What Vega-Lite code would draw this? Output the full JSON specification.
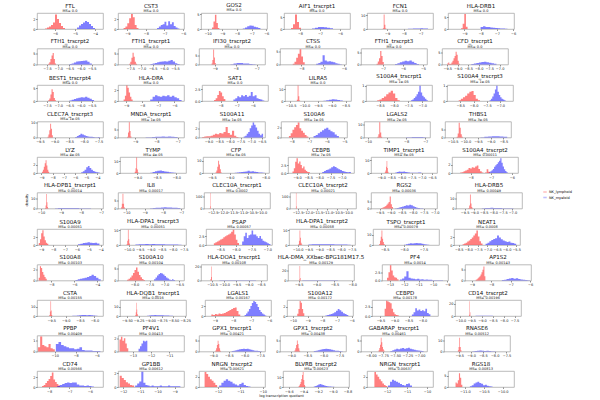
{
"$schema": "https://vega.github.io/schema/vega-lite/v6.json",
"background": "white",
"padding": {"left": 24, "top": 2, "right": 2, "bottom": 1},
"datasets": {
"d1": [{"t":"L","x":-6.5,"y":0.1},{"t":"L","x":-6.4,"y":0.3},{"t":"L","x":-6.3,"y":0.5},{"t":"L","x":-6.2,"y":0.8},{"t":"L","x":-6.1,"y":1.3},{"t":"L","x":-6.0,"y":2.9},{"t":"L","x":-5.9,"y":2.0},{"t":"L","x":-5.8,"y":1.2},{"t":"L","x":-5.7,"y":0.6},{"t":"L","x":-5.6,"y":0.2},{"t":"L","x":-5.5,"y":0},
{"t":"M","x":-4.9,"y":0.3},{"t":"M","x":-4.8,"y":0.7},{"t":"M","x":-4.7,"y":1.0},{"t":"M","x":-4.6,"y":1.3},{"t":"M","x":-4.5,"y":1.6},{"t":"M","x":-4.4,"y":1.4},{"t":"M","x":-4.3,"y":1.0},{"t":"M","x":-4.2,"y":0.6},{"t":"M","x":-4.1,"y":0.2},{"t":"M","x":-4.0,"y":0}],
"d2": [{"t":"L","x":-9.2,"y":0.2},{"t":"L","x":-9.1,"y":0.5},{"t":"L","x":-9.0,"y":1.2},{"t":"L","x":-8.9,"y":2.2},{"t":"L","x":-8.8,"y":3.1},{"t":"L","x":-8.7,"y":2.4},{"t":"L","x":-8.6,"y":0.8},{"t":"L","x":-8.5,"y":0.2},{"t":"L","x":-8.4,"y":0},
{"t":"M","x":-7.4,"y":0.2},{"t":"M","x":-7.3,"y":0.5},{"t":"M","x":-7.2,"y":0.8},{"t":"M","x":-7.1,"y":1.0},{"t":"M","x":-7.0,"y":1.5},{"t":"M","x":-6.9,"y":0.7},{"t":"M","x":-6.8,"y":1.6},{"t":"M","x":-6.7,"y":1.0},{"t":"M","x":-6.6,"y":1.4},{"t":"M","x":-6.5,"y":0.6},{"t":"M","x":-6.4,"y":0.3},{"t":"M","x":-6.3,"y":0.1},{"t":"M","x":-6.2,"y":0}],
"d3": [{"t":"L","x":-9.7,"y":0.5},{"t":"L","x":-9.6,"y":2.5},{"t":"L","x":-9.5,"y":4.8},{"t":"L","x":-9.4,"y":2.0},{"t":"L","x":-9.3,"y":0.3},{"t":"L","x":-9.2,"y":0},
{"t":"M","x":-7.6,"y":0.2},{"t":"M","x":-7.45,"y":0.5},{"t":"M","x":-7.3,"y":0.9},{"t":"M","x":-7.15,"y":1.2},{"t":"M","x":-7.0,"y":1.1},{"t":"M","x":-6.85,"y":0.8},{"t":"M","x":-6.7,"y":0.6},{"t":"M","x":-6.55,"y":0.3},{"t":"M","x":-6.4,"y":0}],
"d4": [{"t":"L","x":-8.45,"y":0.4},{"t":"L","x":-8.35,"y":2.0},{"t":"L","x":-8.25,"y":6.2},{"t":"L","x":-8.15,"y":3.0},{"t":"L","x":-8.05,"y":0.5},{"t":"L","x":-7.95,"y":0},
{"t":"M","x":-7.4,"y":0.2},{"t":"M","x":-7.25,"y":0.5},{"t":"M","x":-7.1,"y":0.9},{"t":"M","x":-6.95,"y":0.8},{"t":"M","x":-6.8,"y":0.7},{"t":"M","x":-6.65,"y":0.5},{"t":"M","x":-6.5,"y":0.3},{"t":"M","x":-6.35,"y":0}],
"d5": [{"t":"L","x":-9.25,"y":0.5},{"t":"L","x":-9.2,"y":10.5},{"t":"L","x":-9.15,"y":3},{"t":"L","x":-9.1,"y":0.3},{"t":"L","x":-9.05,"y":0},
{"t":"M","x":-7.75,"y":0.1},{"t":"M","x":-7.6,"y":0.2},{"t":"M","x":-7.45,"y":0.3},{"t":"M","x":-7.3,"y":0.35},{"t":"M","x":-7.15,"y":0.4},{"t":"M","x":-7.0,"y":0.5},{"t":"M","x":-6.85,"y":0.4},{"t":"M","x":-6.7,"y":0.3},{"t":"M","x":-6.55,"y":0}],
"d6": [{"t":"L","x":-9.2,"y":0.3},{"t":"L","x":-9.1,"y":2.2},{"t":"L","x":-9.0,"y":6.4},{"t":"L","x":-8.9,"y":1.0},{"t":"L","x":-8.8,"y":0},
{"t":"M","x":-8.0,"y":0.8},{"t":"M","x":-7.85,"y":1.2},{"t":"M","x":-7.7,"y":0.9},{"t":"M","x":-7.55,"y":0.8},{"t":"M","x":-7.4,"y":0.6},{"t":"M","x":-7.25,"y":0.5},{"t":"M","x":-7.1,"y":0.4},{"t":"M","x":-6.95,"y":0.3},{"t":"M","x":-6.8,"y":0.2},{"t":"M","x":-6.65,"y":0.2},{"t":"M","x":-6.5,"y":0.1},{"t":"M","x":-6.35,"y":0}],
"d7": [{"t":"L","x":-7.45,"y":0.3},{"t":"L","x":-7.4,"y":1.0},{"t":"L","x":-7.35,"y":2.5},{"t":"L","x":-7.3,"y":4.0},{"t":"L","x":-7.25,"y":5.2},{"t":"L","x":-7.2,"y":2.5},{"t":"L","x":-7.15,"y":0.5},{"t":"L","x":-7.1,"y":0},
{"t":"M","x":-6.5,"y":0.2},{"t":"M","x":-6.4,"y":0.5},{"t":"M","x":-6.3,"y":0.9},{"t":"M","x":-6.2,"y":1.3},{"t":"M","x":-6.1,"y":1.5},{"t":"M","x":-6.0,"y":1.6},{"t":"M","x":-5.9,"y":1.7},{"t":"M","x":-5.8,"y":1.8},{"t":"M","x":-5.7,"y":1.2},{"t":"M","x":-5.6,"y":0.5},{"t":"M","x":-5.5,"y":0}],
"d8": [{"t":"L","x":-7.55,"y":0.3},{"t":"L","x":-7.5,"y":1.2},{"t":"L","x":-7.45,"y":3.0},{"t":"L","x":-7.4,"y":5.3},{"t":"L","x":-7.35,"y":3.5},{"t":"L","x":-7.3,"y":1.2},{"t":"L","x":-7.25,"y":0.3},{"t":"L","x":-7.2,"y":0},
{"t":"M","x":-6.6,"y":0.2},{"t":"M","x":-6.5,"y":0.4},{"t":"M","x":-6.4,"y":0.7},{"t":"M","x":-6.3,"y":1.0},{"t":"M","x":-6.2,"y":1.2},{"t":"M","x":-6.1,"y":1.3},{"t":"M","x":-6.0,"y":1.5},{"t":"M","x":-5.9,"y":1.4},{"t":"M","x":-5.8,"y":1.7},{"t":"M","x":-5.7,"y":2.0},{"t":"M","x":-5.6,"y":1.3},{"t":"M","x":-5.5,"y":0.6},{"t":"M","x":-5.4,"y":0.2},{"t":"M","x":-5.3,"y":0}],
"d9": [{"t":"L","x":-9.15,"y":0.5},{"t":"L","x":-9.11,"y":2.5},{"t":"L","x":-9.07,"y":8.5},{"t":"L","x":-9.03,"y":4.0},{"t":"L","x":-8.99,"y":0.8},{"t":"L","x":-8.95,"y":0},
{"t":"M","x":-8.25,"y":0.2},{"t":"M","x":-8.1,"y":0.6},{"t":"M","x":-7.95,"y":0.9},{"t":"M","x":-7.8,"y":0.8},{"t":"M","x":-7.65,"y":0.6},{"t":"M","x":-7.5,"y":0.5},{"t":"M","x":-7.35,"y":0.3},{"t":"M","x":-7.2,"y":0.2},{"t":"M","x":-7.05,"y":0}],
"d10": [{"t":"L","x":-8.4,"y":0.3},{"t":"L","x":-8.32,"y":1.0},{"t":"L","x":-8.24,"y":2.5},{"t":"L","x":-8.16,"y":4.0},{"t":"L","x":-8.08,"y":5.7},{"t":"L","x":-8.0,"y":3.0},{"t":"L","x":-7.92,"y":0.8},{"t":"L","x":-7.84,"y":0},
{"t":"M","x":-7.3,"y":0.3},{"t":"M","x":-7.2,"y":0.6},{"t":"M","x":-7.1,"y":1.0},{"t":"M","x":-7.0,"y":3.5},{"t":"M","x":-6.9,"y":1.5},{"t":"M","x":-6.8,"y":1.1},{"t":"M","x":-6.7,"y":1.2},{"t":"M","x":-6.6,"y":1.0},{"t":"M","x":-6.5,"y":0.8},{"t":"M","x":-6.4,"y":0.5},{"t":"M","x":-6.3,"y":0.3},{"t":"M","x":-6.2,"y":0.1},{"t":"M","x":-6.1,"y":0}],
"d11": [{"t":"L","x":-7.32,"y":0.3},{"t":"L","x":-7.26,"y":1.2},{"t":"L","x":-7.2,"y":2.5},{"t":"L","x":-7.14,"y":5.5},{"t":"L","x":-7.08,"y":3.5},{"t":"L","x":-7.02,"y":1.0},{"t":"L","x":-6.96,"y":0},
{"t":"M","x":-6.4,"y":0.2},{"t":"M","x":-6.28,"y":0.5},{"t":"M","x":-6.16,"y":0.9},{"t":"M","x":-6.04,"y":1.2},{"t":"M","x":-5.92,"y":1.5},{"t":"M","x":-5.8,"y":1.3},{"t":"M","x":-5.68,"y":1.6},{"t":"M","x":-5.56,"y":1.1},{"t":"M","x":-5.44,"y":0.6},{"t":"M","x":-5.32,"y":0.2},{"t":"M","x":-5.2,"y":0}],
"d12": [{"t":"L","x":-9.5,"y":0.4},{"t":"L","x":-9.45,"y":0.8},{"t":"L","x":-9.4,"y":0.2},{"t":"L","x":-9.35,"y":0.3},{"t":"L","x":-9.3,"y":0.8},{"t":"L","x":-9.25,"y":1.5},{"t":"L","x":-9.2,"y":2.5},{"t":"L","x":-9.15,"y":3.5},{"t":"L","x":-9.1,"y":5.2},{"t":"L","x":-9.05,"y":4.0},{"t":"L","x":-9.0,"y":1.5},{"t":"L","x":-8.95,"y":0.3},{"t":"L","x":-8.9,"y":0},
{"t":"M","x":-8.35,"y":0.2},{"t":"M","x":-8.23,"y":0.4},{"t":"M","x":-8.11,"y":0.6},{"t":"M","x":-7.99,"y":0.8},{"t":"M","x":-7.87,"y":1.0},{"t":"M","x":-7.75,"y":1.1},{"t":"M","x":-7.63,"y":0.9},{"t":"M","x":-7.51,"y":0.7},{"t":"M","x":-7.39,"y":0.5},{"t":"M","x":-7.27,"y":0.3},{"t":"M","x":-7.15,"y":0}],
"d13": [{"t":"L","x":-7.45,"y":0.3},{"t":"L","x":-7.4,"y":1.0},{"t":"L","x":-7.35,"y":2.5},{"t":"L","x":-7.3,"y":4.6},{"t":"L","x":-7.25,"y":3.5},{"t":"L","x":-7.2,"y":1.2},{"t":"L","x":-7.15,"y":0.3},{"t":"L","x":-7.1,"y":0},
{"t":"M","x":-6.5,"y":0.2},{"t":"M","x":-6.4,"y":0.5},{"t":"M","x":-6.3,"y":0.8},{"t":"M","x":-6.2,"y":1.1},{"t":"M","x":-6.1,"y":1.3},{"t":"M","x":-6.0,"y":1.5},{"t":"M","x":-5.9,"y":1.4},{"t":"M","x":-5.8,"y":1.6},{"t":"M","x":-5.7,"y":1.3},{"t":"M","x":-5.6,"y":0.9},{"t":"M","x":-5.5,"y":0.4},{"t":"M","x":-5.4,"y":0}],
"d14": [{"t":"L","x":-9.15,"y":0.3},{"t":"L","x":-9.07,"y":1.0},{"t":"L","x":-8.99,"y":2.9},{"t":"L","x":-8.91,"y":2.5},{"t":"L","x":-8.83,"y":1.6},{"t":"L","x":-8.75,"y":0.8},{"t":"L","x":-8.67,"y":0.3},{"t":"L","x":-8.59,"y":0},
{"t":"M","x":-7.5,"y":0.3},{"t":"M","x":-7.35,"y":0.8},{"t":"M","x":-7.2,"y":1.1},{"t":"M","x":-7.05,"y":0.9},{"t":"M","x":-6.9,"y":0.8},{"t":"M","x":-6.75,"y":1.0},{"t":"M","x":-6.6,"y":0.9},{"t":"M","x":-6.45,"y":1.1},{"t":"M","x":-6.3,"y":0.8},{"t":"M","x":-6.15,"y":1.0},{"t":"M","x":-6.0,"y":0.7},{"t":"M","x":-5.85,"y":0.5},{"t":"M","x":-5.7,"y":0.2},{"t":"M","x":-5.55,"y":0}],
"d15": [{"t":"L","x":-8.4,"y":0.2},{"t":"L","x":-8.3,"y":0.6},{"t":"L","x":-8.2,"y":1.3},{"t":"L","x":-8.1,"y":2.1},{"t":"L","x":-8.0,"y":1.8},{"t":"L","x":-7.9,"y":1.0},{"t":"L","x":-7.8,"y":0.4},{"t":"L","x":-7.7,"y":0},
{"t":"M","x":-7.2,"y":0.3},{"t":"M","x":-7.08,"y":0.6},{"t":"M","x":-6.96,"y":1.0},{"t":"M","x":-6.84,"y":0.8},{"t":"M","x":-6.72,"y":1.2},{"t":"M","x":-6.6,"y":1.0},{"t":"M","x":-6.48,"y":1.3},{"t":"M","x":-6.36,"y":0.9},{"t":"M","x":-6.24,"y":1.1},{"t":"M","x":-6.12,"y":1.9},{"t":"M","x":-6.0,"y":1.0},{"t":"M","x":-5.88,"y":1.2},{"t":"M","x":-5.76,"y":0.6},{"t":"M","x":-5.64,"y":0.4},{"t":"M","x":-5.52,"y":0.3},{"t":"M","x":-5.4,"y":0.1},{"t":"M","x":-5.28,"y":0}],
"d16": [{"t":"L","x":-10.27,"y":1.0},{"t":"L","x":-10.24,"y":13},{"t":"L","x":-10.21,"y":4},{"t":"L","x":-10.18,"y":0.5},{"t":"L","x":-10.15,"y":0},
{"t":"M","x":-9.4,"y":0.1},{"t":"M","x":-9.3,"y":0.3},{"t":"M","x":-9.2,"y":0.6},{"t":"M","x":-9.1,"y":1.1},{"t":"M","x":-9.0,"y":1.4},{"t":"M","x":-8.9,"y":1.2},{"t":"M","x":-8.8,"y":0.8},{"t":"M","x":-8.7,"y":0.4},{"t":"M","x":-8.6,"y":0.1},{"t":"M","x":-8.5,"y":0}],
"d17": [{"t":"L","x":-8.6,"y":0.05},{"t":"L","x":-8.52,"y":0.1},{"t":"L","x":-8.44,"y":0.2},{"t":"L","x":-8.36,"y":0.3},{"t":"L","x":-8.28,"y":0.45},{"t":"L","x":-8.2,"y":0.55},{"t":"L","x":-8.12,"y":0.68},{"t":"L","x":-8.04,"y":0.5},{"t":"L","x":-7.96,"y":0.2},{"t":"L","x":-7.88,"y":0.05},{"t":"L","x":-7.8,"y":0},
{"t":"M","x":-7.4,"y":0.05},{"t":"M","x":-7.35,"y":0.1},{"t":"M","x":-7.3,"y":0.2},{"t":"M","x":-7.25,"y":0.3},{"t":"M","x":-7.2,"y":0.45},{"t":"M","x":-7.15,"y":0.6},{"t":"M","x":-7.1,"y":1.0},{"t":"M","x":-7.05,"y":0.55},{"t":"M","x":-7.0,"y":0.35},{"t":"M","x":-6.95,"y":0.25},{"t":"M","x":-6.9,"y":0.15},{"t":"M","x":-6.85,"y":0.05},{"t":"M","x":-6.8,"y":0}],
"d18": [{"t":"L","x":-8.56,"y":0.05},{"t":"L","x":-8.48,"y":0.15},{"t":"L","x":-8.4,"y":0.25},{"t":"L","x":-8.32,"y":0.35},{"t":"L","x":-8.24,"y":0.5},{"t":"L","x":-8.16,"y":0.6},{"t":"L","x":-8.08,"y":0.65},{"t":"L","x":-8.0,"y":0.4},{"t":"L","x":-7.92,"y":0.15},{"t":"L","x":-7.84,"y":0.05},{"t":"L","x":-7.76,"y":0},
{"t":"M","x":-7.4,"y":0.05},{"t":"M","x":-7.35,"y":0.15},{"t":"M","x":-7.3,"y":0.3},{"t":"M","x":-7.25,"y":0.5},{"t":"M","x":-7.2,"y":0.75},{"t":"M","x":-7.15,"y":1.0},{"t":"M","x":-7.1,"y":0.6},{"t":"M","x":-7.05,"y":0.4},{"t":"M","x":-7.0,"y":0.25},{"t":"M","x":-6.95,"y":0.15},{"t":"M","x":-6.9,"y":0.1},{"t":"M","x":-6.85,"y":0.05},{"t":"M","x":-6.8,"y":0}],
"d19": [{"t":"L","x":-9.24,"y":0.5},{"t":"L","x":-9.21,"y":2},{"t":"L","x":-9.18,"y":5},{"t":"L","x":-9.15,"y":9.5},{"t":"L","x":-9.12,"y":6},{"t":"L","x":-9.09,"y":1.5},{"t":"L","x":-9.06,"y":0},
{"t":"M","x":-8.3,"y":0.3},{"t":"M","x":-8.24,"y":1.0},{"t":"M","x":-8.18,"y":1.8},{"t":"M","x":-8.12,"y":2.6},{"t":"M","x":-8.06,"y":2.0},{"t":"M","x":-8.0,"y":1.5},{"t":"M","x":-7.94,"y":1.0},{"t":"M","x":-7.88,"y":0.7},{"t":"M","x":-7.82,"y":0.5},{"t":"M","x":-7.76,"y":0.6},{"t":"M","x":-7.7,"y":0.3},{"t":"M","x":-7.64,"y":0.2},{"t":"M","x":-7.58,"y":0.1},{"t":"M","x":-7.52,"y":0.3},{"t":"M","x":-7.46,"y":0}],
"d20": [{"t":"L","x":-9.37,"y":0.5},{"t":"L","x":-9.33,"y":3},{"t":"L","x":-9.29,"y":9.3},{"t":"L","x":-9.25,"y":4},{"t":"L","x":-9.21,"y":0.6},{"t":"L","x":-9.17,"y":0},
{"t":"M","x":-8.5,"y":0.1},{"t":"M","x":-8.35,"y":0.2},{"t":"M","x":-8.2,"y":0.3},{"t":"M","x":-8.05,"y":0.4},{"t":"M","x":-7.9,"y":0.5},{"t":"M","x":-7.75,"y":0.6},{"t":"M","x":-7.6,"y":0.5},{"t":"M","x":-7.45,"y":0.6},{"t":"M","x":-7.3,"y":0.4},{"t":"M","x":-7.15,"y":0.3},{"t":"M","x":-7.0,"y":0}],
"d21": [{"t":"L","x":-9.3,"y":0.1},{"t":"L","x":-9.2,"y":0.2},{"t":"L","x":-9.1,"y":0.3},{"t":"L","x":-9.0,"y":0.3},{"t":"L","x":-8.9,"y":0.4},{"t":"L","x":-8.8,"y":0.6},{"t":"L","x":-8.7,"y":0.8},{"t":"L","x":-8.6,"y":0.7},{"t":"L","x":-8.5,"y":1.0},{"t":"L","x":-8.4,"y":0.9},{"t":"L","x":-8.3,"y":1.2},{"t":"L","x":-8.2,"y":2.3},{"t":"L","x":-8.1,"y":1.0},{"t":"L","x":-8.0,"y":0.6},{"t":"L","x":-7.9,"y":1.5},{"t":"L","x":-7.8,"y":0.4},{"t":"L","x":-7.7,"y":0.1},{"t":"L","x":-7.6,"y":0},
{"t":"M","x":-7.35,"y":0.2},{"t":"M","x":-7.28,"y":0.4},{"t":"M","x":-7.21,"y":0.8},{"t":"M","x":-7.14,"y":1.2},{"t":"M","x":-7.07,"y":2.0},{"t":"M","x":-7.0,"y":2.6},{"t":"M","x":-6.93,"y":3.3},{"t":"M","x":-6.86,"y":2.8},{"t":"M","x":-6.79,"y":2.2},{"t":"M","x":-6.72,"y":1.5},{"t":"M","x":-6.65,"y":0.8},{"t":"M","x":-6.58,"y":0.5},{"t":"M","x":-6.51,"y":0.8},{"t":"M","x":-6.44,"y":0}],
"d22": [{"t":"L","x":-8.15,"y":0.3},{"t":"L","x":-8.05,"y":0.8},{"t":"L","x":-7.95,"y":1.5},{"t":"L","x":-7.85,"y":2.0},{"t":"L","x":-7.75,"y":2.4},{"t":"L","x":-7.65,"y":2.9},{"t":"L","x":-7.55,"y":1.8},{"t":"L","x":-7.45,"y":1.3},{"t":"L","x":-7.35,"y":0.9},{"t":"L","x":-7.25,"y":0.5},{"t":"L","x":-7.15,"y":0.2},{"t":"L","x":-7.05,"y":0},
{"t":"M","x":-6.75,"y":0.3},{"t":"M","x":-6.63,"y":0.5},{"t":"M","x":-6.51,"y":0.8},{"t":"M","x":-6.39,"y":1.1},{"t":"M","x":-6.27,"y":1.4},{"t":"M","x":-6.15,"y":1.7},{"t":"M","x":-6.03,"y":1.9},{"t":"M","x":-5.91,"y":1.5},{"t":"M","x":-5.79,"y":1.2},{"t":"M","x":-5.67,"y":1.0},{"t":"M","x":-5.55,"y":0.6},{"t":"M","x":-5.43,"y":0.3},{"t":"M","x":-5.31,"y":0}],
"d23": [{"t":"L","x":-9.5,"y":0.5},{"t":"L","x":-9.45,"y":2.5},{"t":"L","x":-9.4,"y":12},{"t":"L","x":-9.35,"y":4},{"t":"L","x":-9.3,"y":0.5},{"t":"L","x":-9.25,"y":0},
{"t":"M","x":-8.0,"y":0.1},{"t":"M","x":-7.85,"y":0.2},{"t":"M","x":-7.7,"y":0.3},{"t":"M","x":-7.55,"y":0.4},{"t":"M","x":-7.4,"y":0.4},{"t":"M","x":-7.25,"y":0.35},{"t":"M","x":-7.1,"y":0.25},{"t":"M","x":-6.95,"y":0}],
"d24": [{"t":"L","x":-10.34,"y":0.5},{"t":"L","x":-10.3,"y":2.5},{"t":"L","x":-10.26,"y":9.0},{"t":"L","x":-10.22,"y":6},{"t":"L","x":-10.18,"y":2},{"t":"L","x":-10.14,"y":0.5},{"t":"L","x":-10.1,"y":0},
{"t":"M","x":-9.4,"y":0.2},{"t":"M","x":-9.25,"y":0.4},{"t":"M","x":-9.1,"y":0.6},{"t":"M","x":-8.95,"y":0.8},{"t":"M","x":-8.8,"y":0.7},{"t":"M","x":-8.65,"y":0.6},{"t":"M","x":-8.5,"y":0.4},{"t":"M","x":-8.35,"y":0}],
"d25": [{"t":"L","x":-8.95,"y":0.3},{"t":"L","x":-8.87,"y":0.8},{"t":"L","x":-8.79,"y":1.5},{"t":"L","x":-8.71,"y":2.4},{"t":"L","x":-8.63,"y":3.1},{"t":"L","x":-8.55,"y":1.8},{"t":"L","x":-8.47,"y":0.8},{"t":"L","x":-8.39,"y":0.3},{"t":"L","x":-8.31,"y":0},
{"t":"M","x":-5.45,"y":0.2},{"t":"M","x":-5.3,"y":0.4},{"t":"M","x":-5.15,"y":0.8},{"t":"M","x":-5.0,"y":1.4},{"t":"M","x":-4.85,"y":1.7},{"t":"M","x":-4.7,"y":1.2},{"t":"M","x":-4.55,"y":0.8},{"t":"M","x":-4.4,"y":0.5},{"t":"M","x":-4.25,"y":0.3},{"t":"M","x":-4.1,"y":0.2},{"t":"M","x":-3.95,"y":0.1},{"t":"M","x":-3.8,"y":0}],
"d26": [{"t":"L","x":-9.07,"y":1.0},{"t":"L","x":-9.05,"y":4},{"t":"L","x":-9.03,"y":13},{"t":"L","x":-9.01,"y":3},{"t":"L","x":-8.99,"y":0.5},{"t":"L","x":-8.97,"y":0},
{"t":"M","x":-8.67,"y":0.3},{"t":"M","x":-8.61,"y":0.8},{"t":"M","x":-8.55,"y":1.5},{"t":"M","x":-8.49,"y":2.0},{"t":"M","x":-8.43,"y":2.2},{"t":"M","x":-8.37,"y":1.6},{"t":"M","x":-8.31,"y":1.2},{"t":"M","x":-8.25,"y":1.0},{"t":"M","x":-8.19,"y":0.6},{"t":"M","x":-8.13,"y":0.4},{"t":"M","x":-8.07,"y":0.2},{"t":"M","x":-8.01,"y":0.1},{"t":"M","x":-7.95,"y":0}],
"d27": [{"t":"L","x":-9.4,"y":0.5},{"t":"L","x":-9.375,"y":2},{"t":"L","x":-9.35,"y":5},{"t":"L","x":-9.325,"y":10},{"t":"L","x":-9.3,"y":7},{"t":"L","x":-9.275,"y":3},{"t":"L","x":-9.25,"y":0.5},{"t":"L","x":-9.225,"y":0},
{"t":"M","x":-8.86,"y":0.2},{"t":"M","x":-8.8,"y":0.4},{"t":"M","x":-8.74,"y":0.6},{"t":"M","x":-8.68,"y":0.8},{"t":"M","x":-8.62,"y":1.0},{"t":"M","x":-8.56,"y":1.3},{"t":"M","x":-8.5,"y":1.8},{"t":"M","x":-8.44,"y":1.2},{"t":"M","x":-8.38,"y":1.5},{"t":"M","x":-8.32,"y":1.0},{"t":"M","x":-8.26,"y":0.8},{"t":"M","x":-8.2,"y":0.5},{"t":"M","x":-8.14,"y":0.4},{"t":"M","x":-8.08,"y":0.3},{"t":"M","x":-8.02,"y":0}],
"d28": [{"t":"L","x":-9.2,"y":0.5},{"t":"L","x":-9.14,"y":1.5},{"t":"L","x":-9.08,"y":3.5},{"t":"L","x":-9.02,"y":4.6},{"t":"L","x":-8.96,"y":3.0},{"t":"L","x":-8.9,"y":3.6},{"t":"L","x":-8.84,"y":2.5},{"t":"L","x":-8.78,"y":1.5},{"t":"L","x":-8.72,"y":2.0},{"t":"L","x":-8.66,"y":1.0},{"t":"L","x":-8.6,"y":0.6},{"t":"L","x":-8.54,"y":0.3},{"t":"L","x":-8.48,"y":0.2},{"t":"L","x":-8.42,"y":0},
{"t":"M","x":-7.87,"y":0.3},{"t":"M","x":-7.79,"y":0.6},{"t":"M","x":-7.71,"y":0.9},{"t":"M","x":-7.63,"y":1.1},{"t":"M","x":-7.55,"y":1.4},{"t":"M","x":-7.47,"y":1.8},{"t":"M","x":-7.39,"y":2.1},{"t":"M","x":-7.31,"y":1.9},{"t":"M","x":-7.23,"y":1.5},{"t":"M","x":-7.15,"y":1.2},{"t":"M","x":-7.07,"y":0.9},{"t":"M","x":-6.99,"y":0.6},{"t":"M","x":-6.91,"y":0.5},{"t":"M","x":-6.83,"y":0.3},{"t":"M","x":-6.75,"y":0.2},{"t":"M","x":-6.67,"y":0.3},{"t":"M","x":-6.59,"y":0}],
"d29": [{"t":"L","x":-8.82,"y":0.5},{"t":"L","x":-8.79,"y":2},{"t":"L","x":-8.76,"y":5},{"t":"L","x":-8.73,"y":9.5},{"t":"L","x":-8.7,"y":4},{"t":"L","x":-8.67,"y":1},{"t":"L","x":-8.64,"y":0},
{"t":"M","x":-8.3,"y":0.3},{"t":"M","x":-8.22,"y":0.7},{"t":"M","x":-8.14,"y":1.2},{"t":"M","x":-8.06,"y":1.0},{"t":"M","x":-7.98,"y":0.9},{"t":"M","x":-7.9,"y":1.1},{"t":"M","x":-7.82,"y":0.8},{"t":"M","x":-7.74,"y":0.5},{"t":"M","x":-7.66,"y":0.4},{"t":"M","x":-7.58,"y":0.2},{"t":"M","x":-7.5,"y":0.1},{"t":"M","x":-7.42,"y":0.1},{"t":"M","x":-7.34,"y":0.1},{"t":"M","x":-7.26,"y":0.2},{"t":"M","x":-7.18,"y":0.4},{"t":"M","x":-7.1,"y":0.3},{"t":"M","x":-7.02,"y":0}],
"d30": [{"t":"L","x":-8.5,"y":0.1},{"t":"L","x":-8.42,"y":0.2},{"t":"L","x":-8.34,"y":0.4},{"t":"L","x":-8.26,"y":0.6},{"t":"L","x":-8.18,"y":0.8},{"t":"L","x":-8.1,"y":1.2},{"t":"L","x":-8.02,"y":1.1},{"t":"L","x":-7.94,"y":1.4},{"t":"L","x":-7.86,"y":1.3},{"t":"L","x":-7.78,"y":1.6},{"t":"L","x":-7.7,"y":1.8},{"t":"L","x":-7.62,"y":1.0},{"t":"L","x":-7.54,"y":0.4},{"t":"L","x":-7.46,"y":0.1},{"t":"L","x":-7.38,"y":0},{"t":"L","x":-7.3,"y":0.1},{"t":"L","x":-7.22,"y":0.9},{"t":"L","x":-7.14,"y":0.3},{"t":"L","x":-7.06,"y":0},
{"t":"M","x":-7.1,"y":0.2},{"t":"M","x":-7.04,"y":0.4},{"t":"M","x":-6.98,"y":0.7},{"t":"M","x":-6.92,"y":1.0},{"t":"M","x":-6.86,"y":1.5},{"t":"M","x":-6.8,"y":1.9},{"t":"M","x":-6.74,"y":2.2},{"t":"M","x":-6.68,"y":2.6},{"t":"M","x":-6.62,"y":3.0},{"t":"M","x":-6.56,"y":3.6},{"t":"M","x":-6.5,"y":2.5},{"t":"M","x":-6.44,"y":1.6},{"t":"M","x":-6.38,"y":0.9},{"t":"M","x":-6.32,"y":0.5},{"t":"M","x":-6.26,"y":0.2},{"t":"M","x":-6.2,"y":0}],
"d31": [{"t":"L","x":-9.8,"y":0.5},{"t":"L","x":-9.77,"y":3},{"t":"L","x":-9.74,"y":14},{"t":"L","x":-9.71,"y":6},{"t":"L","x":-9.68,"y":1.5},{"t":"L","x":-9.65,"y":0.3},{"t":"L","x":-9.62,"y":0},
{"t":"M","x":-9.3,"y":0.2},{"t":"M","x":-9.15,"y":0.5},{"t":"M","x":-9.0,"y":0.6},{"t":"M","x":-8.85,"y":0.5},{"t":"M","x":-8.7,"y":0.5},{"t":"M","x":-8.55,"y":0.4},{"t":"M","x":-8.4,"y":0.5},{"t":"M","x":-8.25,"y":0.4},{"t":"M","x":-8.1,"y":0.3},{"t":"M","x":-7.95,"y":0.3},{"t":"M","x":-7.8,"y":0.2},{"t":"M","x":-7.65,"y":0.2},{"t":"M","x":-7.5,"y":0.1},{"t":"M","x":-7.35,"y":0.1},{"t":"M","x":-7.2,"y":0}],
"d32": [{"t":"L","x":-10.28,"y":0.8},{"t":"L","x":-10.24,"y":3},{"t":"L","x":-10.2,"y":9.2},{"t":"L","x":-10.16,"y":3},{"t":"L","x":-10.12,"y":0.8},{"t":"L","x":-10.08,"y":0},
{"t":"M","x":-8.7,"y":0.2},{"t":"M","x":-8.55,"y":0.3},{"t":"M","x":-8.4,"y":0.4},{"t":"M","x":-8.25,"y":0.5},{"t":"M","x":-8.1,"y":0.6},{"t":"M","x":-7.95,"y":0.8},{"t":"M","x":-7.8,"y":0.7},{"t":"M","x":-7.65,"y":0.6},{"t":"M","x":-7.5,"y":0.5},{"t":"M","x":-7.35,"y":0.4},{"t":"M","x":-7.2,"y":0.3},{"t":"M","x":-7.05,"y":0}],
"d33": [{"t":"L","x":-12.66,"y":2},{"t":"L","x":-12.64,"y":130},{"t":"L","x":-12.62,"y":20},{"t":"L","x":-12.6,"y":0},
{"t":"M","x":-12.4,"y":0.3},{"t":"M","x":-12.2,"y":0.4},{"t":"M","x":-12.0,"y":0.5},{"t":"M","x":-11.8,"y":0.5},{"t":"M","x":-11.6,"y":0.5},{"t":"M","x":-11.4,"y":0.5},{"t":"M","x":-11.2,"y":0.4},{"t":"M","x":-11.0,"y":0.4},{"t":"M","x":-10.8,"y":0.4},{"t":"M","x":-10.6,"y":0.3},{"t":"M","x":-10.4,"y":0.3},{"t":"M","x":-10.2,"y":0.2},{"t":"M","x":-10.0,"y":0.2},{"t":"M","x":-9.8,"y":0}],
"d34": [{"t":"L","x":-12.6,"y":2},{"t":"L","x":-12.58,"y":130},{"t":"L","x":-12.56,"y":20},{"t":"L","x":-12.54,"y":0},
{"t":"M","x":-12.4,"y":0.3},{"t":"M","x":-12.2,"y":0.4},{"t":"M","x":-12.0,"y":0.5},{"t":"M","x":-11.8,"y":0.5},{"t":"M","x":-11.6,"y":0.5},{"t":"M","x":-11.4,"y":0.4},{"t":"M","x":-11.2,"y":0.4},{"t":"M","x":-11.0,"y":0.4},{"t":"M","x":-10.8,"y":0.3},{"t":"M","x":-10.6,"y":0.3},{"t":"M","x":-10.4,"y":0.3},{"t":"M","x":-10.2,"y":0.2},{"t":"M","x":-10.0,"y":0.2},{"t":"M","x":-9.8,"y":0}],
"d35": [{"t":"L","x":-9.45,"y":0.3},{"t":"L","x":-9.4,"y":0.5},{"t":"L","x":-9.35,"y":0.8},{"t":"L","x":-9.3,"y":1.2},{"t":"L","x":-9.25,"y":1.8},{"t":"L","x":-9.2,"y":2.5},{"t":"L","x":-9.15,"y":3.5},{"t":"L","x":-9.1,"y":4.5},{"t":"L","x":-9.05,"y":8.2},{"t":"L","x":-9.0,"y":3.0},{"t":"L","x":-8.95,"y":1.0},{"t":"L","x":-8.9,"y":0},
{"t":"M","x":-8.8,"y":0.2},{"t":"M","x":-8.72,"y":0.4},{"t":"M","x":-8.64,"y":0.7},{"t":"M","x":-8.56,"y":1.0},{"t":"M","x":-8.48,"y":1.4},{"t":"M","x":-8.4,"y":1.8},{"t":"M","x":-8.32,"y":2.2},{"t":"M","x":-8.24,"y":2.0},{"t":"M","x":-8.16,"y":2.6},{"t":"M","x":-8.08,"y":2.2},{"t":"M","x":-8.0,"y":1.5},{"t":"M","x":-7.92,"y":1.0},{"t":"M","x":-7.84,"y":0.6},{"t":"M","x":-7.76,"y":0.3},{"t":"M","x":-7.68,"y":0.2},{"t":"M","x":-7.6,"y":0.1},{"t":"M","x":-7.52,"y":0}],
"d36": [{"t":"L","x":-9.3,"y":0.5},{"t":"L","x":-9.26,"y":3},{"t":"L","x":-9.22,"y":14},{"t":"L","x":-9.18,"y":5},{"t":"L","x":-9.14,"y":1.5},{"t":"L","x":-9.1,"y":0.3},{"t":"L","x":-9.06,"y":0},
{"t":"M","x":-8.6,"y":0.2},{"t":"M","x":-8.45,"y":0.4},{"t":"M","x":-8.3,"y":0.6},{"t":"M","x":-8.15,"y":0.7},{"t":"M","x":-8.0,"y":0.6},{"t":"M","x":-7.85,"y":0.5},{"t":"M","x":-7.7,"y":0.4},{"t":"M","x":-7.55,"y":0.3},{"t":"M","x":-7.4,"y":0.3},{"t":"M","x":-7.25,"y":0.2},{"t":"M","x":-7.1,"y":0.2},{"t":"M","x":-6.95,"y":0.1},{"t":"M","x":-6.8,"y":0}],
"d37": [{"t":"L","x":-9.2,"y":0.5},{"t":"L","x":-9.1,"y":1.5},{"t":"L","x":-9.0,"y":3.0},{"t":"L","x":-8.9,"y":3.8},{"t":"L","x":-8.8,"y":2.2},{"t":"L","x":-8.7,"y":1.2},{"t":"L","x":-8.6,"y":0.6},{"t":"L","x":-8.5,"y":0.3},{"t":"L","x":-8.4,"y":0},
{"t":"M","x":-5.9,"y":0.2},{"t":"M","x":-5.7,"y":0.3},{"t":"M","x":-5.5,"y":0.5},{"t":"M","x":-5.3,"y":0.6},{"t":"M","x":-5.1,"y":0.7},{"t":"M","x":-4.9,"y":0.6},{"t":"M","x":-4.7,"y":0.5},{"t":"M","x":-4.5,"y":0.6},{"t":"M","x":-4.3,"y":0.4},{"t":"M","x":-4.1,"y":0}],
"d38": [{"t":"L","x":-10.1,"y":0.5},{"t":"L","x":-10.07,"y":3},{"t":"L","x":-10.04,"y":10.5},{"t":"L","x":-10.01,"y":4},{"t":"L","x":-9.98,"y":1},{"t":"L","x":-9.95,"y":0},
{"t":"M","x":-9.7,"y":0.3},{"t":"M","x":-9.55,"y":0.5},{"t":"M","x":-9.4,"y":0.6},{"t":"M","x":-9.25,"y":0.7},{"t":"M","x":-9.1,"y":0.6},{"t":"M","x":-8.95,"y":0.7},{"t":"M","x":-8.8,"y":0.6},{"t":"M","x":-8.65,"y":0.5},{"t":"M","x":-8.5,"y":0.6},{"t":"M","x":-8.35,"y":0.4},{"t":"M","x":-8.2,"y":0.4},{"t":"M","x":-8.05,"y":0.3},{"t":"M","x":-7.9,"y":0.3},{"t":"M","x":-7.75,"y":0.2},{"t":"M","x":-7.6,"y":0}],
"d39": [{"t":"L","x":-8.7,"y":0.5},{"t":"L","x":-8.65,"y":0.8},{"t":"L","x":-8.6,"y":1.0},{"t":"L","x":-8.55,"y":1.3},{"t":"L","x":-8.5,"y":1.6},{"t":"L","x":-8.45,"y":1.8},{"t":"L","x":-8.4,"y":2.2},{"t":"L","x":-8.35,"y":2.5},{"t":"L","x":-8.3,"y":2.8},{"t":"L","x":-8.25,"y":3.0},{"t":"L","x":-8.2,"y":3.3},{"t":"L","x":-8.15,"y":3.8},{"t":"L","x":-8.1,"y":4.4},{"t":"L","x":-8.05,"y":3.0},{"t":"L","x":-8.0,"y":1.5},{"t":"L","x":-7.95,"y":0.6},{"t":"L","x":-7.9,"y":0},
{"t":"M","x":-7.8,"y":1.0},{"t":"M","x":-7.75,"y":2.5},{"t":"M","x":-7.7,"y":3.5},{"t":"M","x":-7.65,"y":2.0},{"t":"M","x":-7.6,"y":2.8},{"t":"M","x":-7.55,"y":3.0},{"t":"M","x":-7.5,"y":4.2},{"t":"M","x":-7.45,"y":3.0},{"t":"M","x":-7.4,"y":3.0},{"t":"M","x":-7.35,"y":2.5},{"t":"M","x":-7.3,"y":2.0},{"t":"M","x":-7.25,"y":2.6},{"t":"M","x":-7.2,"y":1.8},{"t":"M","x":-7.15,"y":1.2},{"t":"M","x":-7.1,"y":1.0},{"t":"M","x":-7.05,"y":0.8},{"t":"M","x":-7.0,"y":0.5},{"t":"M","x":-6.95,"y":0.3},{"t":"M","x":-6.9,"y":0}],
"d40": [{"t":"L","x":-9.97,"y":0.5},{"t":"L","x":-9.94,"y":3},{"t":"L","x":-9.91,"y":10},{"t":"L","x":-9.88,"y":5},{"t":"L","x":-9.85,"y":1.5},{"t":"L","x":-9.82,"y":0.3},{"t":"L","x":-9.79,"y":0},
{"t":"M","x":-9.5,"y":0.3},{"t":"M","x":-9.35,"y":0.5},{"t":"M","x":-9.2,"y":0.6},{"t":"M","x":-9.05,"y":0.6},{"t":"M","x":-8.9,"y":0.5},{"t":"M","x":-8.75,"y":0.6},{"t":"M","x":-8.6,"y":0.5},{"t":"M","x":-8.45,"y":0.5},{"t":"M","x":-8.3,"y":0.4},{"t":"M","x":-8.15,"y":0.4},{"t":"M","x":-8.0,"y":0.3},{"t":"M","x":-7.85,"y":0.3},{"t":"M","x":-7.7,"y":0.2},{"t":"M","x":-7.55,"y":0}],
"d41": [{"t":"L","x":-8.64,"y":1},{"t":"L","x":-8.62,"y":4},{"t":"L","x":-8.6,"y":8},{"t":"L","x":-8.58,"y":14},{"t":"L","x":-8.56,"y":6},{"t":"L","x":-8.54,"y":3},{"t":"L","x":-8.52,"y":1},{"t":"L","x":-8.5,"y":0},
{"t":"M","x":-8.0,"y":0.3},{"t":"M","x":-7.95,"y":0.8},{"t":"M","x":-7.9,"y":1.2},{"t":"M","x":-7.85,"y":1.6},{"t":"M","x":-7.8,"y":1.4},{"t":"M","x":-7.75,"y":1.8},{"t":"M","x":-7.7,"y":2.0},{"t":"M","x":-7.65,"y":1.6},{"t":"M","x":-7.6,"y":1.8},{"t":"M","x":-7.55,"y":1.2},{"t":"M","x":-7.5,"y":0.8},{"t":"M","x":-7.45,"y":0.5},{"t":"M","x":-7.4,"y":0.3},{"t":"M","x":-7.35,"y":0}],
"d42": [{"t":"L","x":-8.3,"y":0.2},{"t":"L","x":-8.22,"y":0.4},{"t":"L","x":-8.14,"y":0.6},{"t":"L","x":-8.06,"y":0.9},{"t":"L","x":-7.98,"y":1.2},{"t":"L","x":-7.9,"y":1.6},{"t":"L","x":-7.82,"y":2.0},{"t":"L","x":-7.74,"y":2.5},{"t":"L","x":-7.66,"y":3.0},{"t":"L","x":-7.58,"y":3.8},{"t":"L","x":-7.5,"y":2.2},{"t":"L","x":-7.42,"y":1.0},{"t":"L","x":-7.34,"y":0.4},{"t":"L","x":-7.26,"y":0},
{"t":"M","x":-7.1,"y":0.3},{"t":"M","x":-7.0,"y":0.6},{"t":"M","x":-6.9,"y":1.0},{"t":"M","x":-6.8,"y":1.3},{"t":"M","x":-6.7,"y":1.6},{"t":"M","x":-6.6,"y":1.8},{"t":"M","x":-6.5,"y":2.5},{"t":"M","x":-6.4,"y":2.0},{"t":"M","x":-6.3,"y":1.5},{"t":"M","x":-6.2,"y":1.2},{"t":"M","x":-6.1,"y":1.0},{"t":"M","x":-6.0,"y":0.8},{"t":"M","x":-5.9,"y":0.9},{"t":"M","x":-5.8,"y":0.6},{"t":"M","x":-5.7,"y":0.5},{"t":"M","x":-5.6,"y":0.3},{"t":"M","x":-5.5,"y":0}],
"d43": [{"t":"L","x":-9.1,"y":0.5},{"t":"L","x":-9.0,"y":2.5},{"t":"L","x":-8.9,"y":2.2},{"t":"L","x":-8.8,"y":1.5},{"t":"L","x":-8.7,"y":1.0},{"t":"L","x":-8.6,"y":0.6},{"t":"L","x":-8.5,"y":0.3},{"t":"L","x":-8.4,"y":0},
{"t":"M","x":-5.9,"y":0.1},{"t":"M","x":-5.7,"y":0.2},{"t":"M","x":-5.5,"y":0.3},{"t":"M","x":-5.3,"y":0.4},{"t":"M","x":-5.1,"y":0.5},{"t":"M","x":-4.9,"y":0.6},{"t":"M","x":-4.7,"y":0.8},{"t":"M","x":-4.5,"y":1.0},{"t":"M","x":-4.3,"y":0.8},{"t":"M","x":-4.1,"y":0.5},{"t":"M","x":-3.9,"y":0.2},{"t":"M","x":-3.7,"y":0}],
"d44": [{"t":"L","x":-8.25,"y":0.3},{"t":"L","x":-8.2,"y":0.7},{"t":"L","x":-8.15,"y":1.2},{"t":"L","x":-8.1,"y":2.0},{"t":"L","x":-8.05,"y":3.0},{"t":"L","x":-8.0,"y":4.2},{"t":"L","x":-7.95,"y":5.2},{"t":"L","x":-7.9,"y":3.5},{"t":"L","x":-7.85,"y":2.2},{"t":"L","x":-7.8,"y":1.3},{"t":"L","x":-7.75,"y":0.6},{"t":"L","x":-7.7,"y":0.2},{"t":"L","x":-7.65,"y":0},
{"t":"M","x":-7.35,"y":0.5},{"t":"M","x":-7.3,"y":1.2},{"t":"M","x":-7.25,"y":2.0},{"t":"M","x":-7.2,"y":2.6},{"t":"M","x":-7.15,"y":3.0},{"t":"M","x":-7.1,"y":2.8},{"t":"M","x":-7.05,"y":2.4},{"t":"M","x":-7.0,"y":1.8},{"t":"M","x":-6.95,"y":1.2},{"t":"M","x":-6.9,"y":0.8},{"t":"M","x":-6.85,"y":0.4},{"t":"M","x":-6.8,"y":0.2},{"t":"M","x":-6.75,"y":0.5},{"t":"M","x":-6.7,"y":0.2},{"t":"M","x":-6.65,"y":0}],
"d45": [{"t":"L","x":-10.56,"y":2},{"t":"L","x":-10.54,"y":20},{"t":"L","x":-10.52,"y":5},{"t":"L","x":-10.5,"y":0},
{"t":"M","x":-10.2,"y":0.3},{"t":"M","x":-10.05,"y":0.4},{"t":"M","x":-9.9,"y":0.4},{"t":"M","x":-9.75,"y":0.5},{"t":"M","x":-9.6,"y":0.4},{"t":"M","x":-9.45,"y":0.3},{"t":"M","x":-9.3,"y":0.4},{"t":"M","x":-9.15,"y":0.3},{"t":"M","x":-9.0,"y":0.3},{"t":"M","x":-8.85,"y":0.2},{"t":"M","x":-8.7,"y":0.1},{"t":"M","x":-8.55,"y":0}],
"d46": [{"t":"L","x":-9.49,"y":2},{"t":"L","x":-9.475,"y":30},{"t":"L","x":-9.46,"y":5},{"t":"L","x":-9.445,"y":0},
{"t":"M","x":-9.4,"y":0.3},{"t":"M","x":-9.3,"y":0.5},{"t":"M","x":-9.2,"y":0.6},{"t":"M","x":-9.1,"y":0.6},{"t":"M","x":-9.0,"y":0.5},{"t":"M","x":-8.9,"y":0.5},{"t":"M","x":-8.8,"y":0.4},{"t":"M","x":-8.7,"y":0.4},{"t":"M","x":-8.6,"y":0.3},{"t":"M","x":-8.5,"y":0.3},{"t":"M","x":-8.4,"y":0.2},{"t":"M","x":-8.3,"y":0}],
"d47": [{"t":"L","x":-13.2,"y":0.8},{"t":"L","x":-13.1,"y":2.5},{"t":"L","x":-13.0,"y":4.6},{"t":"L","x":-12.9,"y":3.0},{"t":"L","x":-12.8,"y":1.5},{"t":"L","x":-12.7,"y":1.0},{"t":"L","x":-12.6,"y":0.8},{"t":"L","x":-12.5,"y":0.4},{"t":"L","x":-12.4,"y":0},
{"t":"M","x":-12.3,"y":0.3},{"t":"M","x":-12.15,"y":0.6},{"t":"M","x":-12.0,"y":1.2},{"t":"M","x":-11.85,"y":2.8},{"t":"M","x":-11.7,"y":0.8},{"t":"M","x":-11.55,"y":0.6},{"t":"M","x":-11.4,"y":0.5},{"t":"M","x":-11.25,"y":0.4},{"t":"M","x":-11.1,"y":0.5},{"t":"M","x":-10.95,"y":0.3},{"t":"M","x":-10.8,"y":0.4},{"t":"M","x":-10.65,"y":0.2},{"t":"M","x":-10.5,"y":0.3},{"t":"M","x":-10.35,"y":0.2},{"t":"M","x":-10.2,"y":0.2},{"t":"M","x":-10.05,"y":0.1},{"t":"M","x":-9.9,"y":0.1},{"t":"M","x":-9.75,"y":0.1},{"t":"M","x":-9.6,"y":0.1},{"t":"M","x":-9.45,"y":0.1},{"t":"M","x":-9.3,"y":0}],
"d48": [{"t":"L","x":-8.8,"y":0.3},{"t":"L","x":-8.75,"y":0.6},{"t":"L","x":-8.7,"y":1.0},{"t":"L","x":-8.65,"y":1.5},{"t":"L","x":-8.6,"y":2.0},{"t":"L","x":-8.55,"y":2.8},{"t":"L","x":-8.5,"y":3.8},{"t":"L","x":-8.45,"y":5.0},{"t":"L","x":-8.4,"y":6.5},{"t":"L","x":-8.35,"y":2.0},{"t":"L","x":-8.3,"y":0},
{"t":"M","x":-7.45,"y":0.2},{"t":"M","x":-7.33,"y":0.4},{"t":"M","x":-7.21,"y":0.7},{"t":"M","x":-7.09,"y":0.9},{"t":"M","x":-6.97,"y":1.1},{"t":"M","x":-6.85,"y":0.8},{"t":"M","x":-6.73,"y":1.0},{"t":"M","x":-6.61,"y":0.7},{"t":"M","x":-6.49,"y":0.5},{"t":"M","x":-6.37,"y":0.3},{"t":"M","x":-6.25,"y":0.2},{"t":"M","x":-6.13,"y":0.1},{"t":"M","x":-6.01,"y":0}],
"d49": [{"t":"L","x":-9.57,"y":1},{"t":"L","x":-9.55,"y":5},{"t":"L","x":-9.53,"y":16},{"t":"L","x":-9.51,"y":6},{"t":"L","x":-9.49,"y":1},{"t":"L","x":-9.47,"y":0},
{"t":"M","x":-8.77,"y":0.2},{"t":"M","x":-8.69,"y":0.4},{"t":"M","x":-8.61,"y":0.6},{"t":"M","x":-8.53,"y":0.8},{"t":"M","x":-8.45,"y":1.0},{"t":"M","x":-8.37,"y":1.1},{"t":"M","x":-8.29,"y":0.9},{"t":"M","x":-8.21,"y":1.0},{"t":"M","x":-8.13,"y":0.7},{"t":"M","x":-8.05,"y":0.5},{"t":"M","x":-7.97,"y":0.3},{"t":"M","x":-7.89,"y":0}],
"d50": [{"t":"L","x":-9.32,"y":1},{"t":"L","x":-9.31,"y":4},{"t":"L","x":-9.3,"y":14},{"t":"L","x":-9.29,"y":7},{"t":"L","x":-9.28,"y":2},{"t":"L","x":-9.27,"y":0.5},{"t":"L","x":-9.26,"y":0},
{"t":"M","x":-9.07,"y":0.2},{"t":"M","x":-9.03,"y":0.5},{"t":"M","x":-8.99,"y":0.7},{"t":"M","x":-8.95,"y":0.9},{"t":"M","x":-8.91,"y":1.0},{"t":"M","x":-8.87,"y":0.8},{"t":"M","x":-8.83,"y":0.9},{"t":"M","x":-8.79,"y":0.7},{"t":"M","x":-8.75,"y":0.8},{"t":"M","x":-8.71,"y":0.6},{"t":"M","x":-8.67,"y":0.5},{"t":"M","x":-8.63,"y":0.4},{"t":"M","x":-8.59,"y":0.3},{"t":"M","x":-8.55,"y":0.2},{"t":"M","x":-8.51,"y":0.1},{"t":"M","x":-8.47,"y":0}],
"d51": [{"t":"L","x":-9.2,"y":0.3},{"t":"L","x":-9.1,"y":0.2},{"t":"L","x":-9.0,"y":0.4},{"t":"L","x":-8.9,"y":0.3},{"t":"L","x":-8.8,"y":0.5},{"t":"L","x":-8.7,"y":0.4},{"t":"L","x":-8.6,"y":0.5},{"t":"L","x":-8.5,"y":0.6},{"t":"L","x":-8.4,"y":0.8},{"t":"L","x":-8.3,"y":1.0},{"t":"L","x":-8.2,"y":1.2},{"t":"L","x":-8.1,"y":1.4},{"t":"L","x":-8.0,"y":1.6},{"t":"L","x":-7.9,"y":1.7},{"t":"L","x":-7.8,"y":1.0},{"t":"L","x":-7.7,"y":0.3},{"t":"L","x":-7.6,"y":0},
{"t":"M","x":-7.36,"y":0.2},{"t":"M","x":-7.28,"y":0.5},{"t":"M","x":-7.2,"y":0.9},{"t":"M","x":-7.12,"y":1.4},{"t":"M","x":-7.04,"y":2.0},{"t":"M","x":-6.96,"y":2.6},{"t":"M","x":-6.88,"y":3.0},{"t":"M","x":-6.8,"y":2.8},{"t":"M","x":-6.72,"y":2.4},{"t":"M","x":-6.64,"y":1.8},{"t":"M","x":-6.56,"y":1.2},{"t":"M","x":-6.48,"y":0.8},{"t":"M","x":-6.4,"y":0.5},{"t":"M","x":-6.32,"y":0.3},{"t":"M","x":-6.24,"y":0.1},{"t":"M","x":-6.16,"y":0}],
"d52": [{"t":"L","x":-9.7,"y":0.5},{"t":"L","x":-9.62,"y":1.5},{"t":"L","x":-9.54,"y":3.2},{"t":"L","x":-9.46,"y":2.8},{"t":"L","x":-9.38,"y":1.5},{"t":"L","x":-9.3,"y":0.6},{"t":"L","x":-9.22,"y":0},
{"t":"M","x":-7.78,"y":0.1},{"t":"M","x":-7.66,"y":0.2},{"t":"M","x":-7.54,"y":0.3},{"t":"M","x":-7.42,"y":0.4},{"t":"M","x":-7.3,"y":0.6},{"t":"M","x":-7.18,"y":0.8},{"t":"M","x":-7.06,"y":1.1},{"t":"M","x":-6.94,"y":1.5},{"t":"M","x":-6.82,"y":1.2},{"t":"M","x":-6.7,"y":0.9},{"t":"M","x":-6.58,"y":0.6},{"t":"M","x":-6.46,"y":0.4},{"t":"M","x":-6.34,"y":0.2},{"t":"M","x":-6.22,"y":0}],
"d53": [{"t":"L","x":-9.35,"y":2.0},{"t":"L","x":-9.3,"y":4.2},{"t":"L","x":-9.25,"y":4.0},{"t":"L","x":-9.2,"y":3.8},{"t":"L","x":-9.15,"y":3.5},{"t":"L","x":-9.1,"y":2.0},{"t":"L","x":-9.05,"y":1.0},{"t":"L","x":-9.0,"y":0.5},{"t":"L","x":-8.95,"y":0.3},{"t":"L","x":-8.9,"y":0.2},{"t":"L","x":-8.85,"y":0},
{"t":"M","x":-8.38,"y":0.4},{"t":"M","x":-8.32,"y":1.0},{"t":"M","x":-8.26,"y":2.1},{"t":"M","x":-8.2,"y":1.5},{"t":"M","x":-8.14,"y":1.8},{"t":"M","x":-8.08,"y":1.4},{"t":"M","x":-8.02,"y":1.6},{"t":"M","x":-7.96,"y":1.3},{"t":"M","x":-7.9,"y":2.0},{"t":"M","x":-7.84,"y":0.8},{"t":"M","x":-7.78,"y":0.5},{"t":"M","x":-7.72,"y":0}],
"d54": [{"t":"L","x":-9.6,"y":2},{"t":"L","x":-9.58,"y":24},{"t":"L","x":-9.56,"y":6},{"t":"L","x":-9.54,"y":0},
{"t":"M","x":-9.5,"y":0.2},{"t":"M","x":-9.3,"y":0.3},{"t":"M","x":-9.1,"y":0.3},{"t":"M","x":-8.9,"y":0.3},{"t":"M","x":-8.7,"y":0.3},{"t":"M","x":-8.5,"y":0.2},{"t":"M","x":-8.3,"y":0.2},{"t":"M","x":-8.1,"y":0.2},{"t":"M","x":-7.9,"y":0.1},{"t":"M","x":-7.7,"y":0.1},{"t":"M","x":-7.5,"y":0}],
"d55": [{"t":"L","x":-11.6,"y":0.4},{"t":"L","x":-11.4,"y":1.4},{"t":"L","x":-11.2,"y":0.6},{"t":"L","x":-11.0,"y":0.5},{"t":"L","x":-10.8,"y":0.4},{"t":"L","x":-10.6,"y":0.7},{"t":"L","x":-10.4,"y":0.3},{"t":"L","x":-10.2,"y":0.2},{"t":"L","x":-10.0,"y":0},
{"t":"M","x":-9.9,"y":0.7},{"t":"M","x":-9.65,"y":0.9},{"t":"M","x":-9.4,"y":0.6},{"t":"M","x":-9.15,"y":0.5},{"t":"M","x":-8.9,"y":0.4},{"t":"M","x":-8.65,"y":0.3},{"t":"M","x":-8.4,"y":0.3},{"t":"M","x":-8.15,"y":0.2},{"t":"M","x":-7.9,"y":0.25},{"t":"M","x":-7.65,"y":0.4},{"t":"M","x":-7.4,"y":0.15},{"t":"M","x":-7.15,"y":0.1},{"t":"M","x":-6.9,"y":0.1},{"t":"M","x":-6.65,"y":0.1},{"t":"M","x":-6.4,"y":0.05},{"t":"M","x":-6.15,"y":0.05},{"t":"M","x":-5.9,"y":0.05},{"t":"M","x":-5.65,"y":0}],
"d56": [{"t":"L","x":-13.72,"y":1.8},{"t":"L","x":-13.64,"y":2.2},{"t":"L","x":-13.56,"y":1.6},{"t":"L","x":-13.48,"y":2.0},{"t":"L","x":-13.4,"y":1.2},{"t":"L","x":-13.32,"y":0.5},{"t":"L","x":-13.24,"y":0},
{"t":"M","x":-12.68,"y":0.4},{"t":"M","x":-12.6,"y":0.8},{"t":"M","x":-12.52,"y":1.2},{"t":"M","x":-12.44,"y":1.6},{"t":"M","x":-12.36,"y":1.5},{"t":"M","x":-12.28,"y":1.6},{"t":"M","x":-12.2,"y":0}],
"d57": [{"t":"L","x":-8.93,"y":0.5},{"t":"L","x":-8.905,"y":1.5},{"t":"L","x":-8.88,"y":3.0},{"t":"L","x":-8.855,"y":5.0},{"t":"L","x":-8.83,"y":3.5},{"t":"L","x":-8.805,"y":1.5},{"t":"L","x":-8.78,"y":0.4},{"t":"L","x":-8.755,"y":0},
{"t":"M","x":-8.41,"y":0.2},{"t":"M","x":-8.35,"y":0.4},{"t":"M","x":-8.29,"y":0.6},{"t":"M","x":-8.23,"y":0.8},{"t":"M","x":-8.17,"y":1.0},{"t":"M","x":-8.11,"y":1.2},{"t":"M","x":-8.05,"y":1.3},{"t":"M","x":-7.99,"y":1.2},{"t":"M","x":-7.93,"y":1.3},{"t":"M","x":-7.87,"y":1.0},{"t":"M","x":-7.81,"y":0.8},{"t":"M","x":-7.75,"y":0.6},{"t":"M","x":-7.69,"y":0.4},{"t":"M","x":-7.63,"y":0.3},{"t":"M","x":-7.57,"y":0.2},{"t":"M","x":-7.51,"y":0.1},{"t":"M","x":-7.45,"y":0}],
"d58": [{"t":"L","x":-8.9,"y":0.5},{"t":"L","x":-8.875,"y":1.5},{"t":"L","x":-8.85,"y":3.0},{"t":"L","x":-8.825,"y":5.2},{"t":"L","x":-8.8,"y":3.5},{"t":"L","x":-8.775,"y":1.5},{"t":"L","x":-8.75,"y":0.4},{"t":"L","x":-8.725,"y":0},
{"t":"M","x":-8.3,"y":0.2},{"t":"M","x":-8.24,"y":0.4},{"t":"M","x":-8.18,"y":0.6},{"t":"M","x":-8.12,"y":0.8},{"t":"M","x":-8.06,"y":1.0},{"t":"M","x":-8.0,"y":1.2},{"t":"M","x":-7.94,"y":1.3},{"t":"M","x":-7.88,"y":1.2},{"t":"M","x":-7.82,"y":1.0},{"t":"M","x":-7.76,"y":0.8},{"t":"M","x":-7.7,"y":0.6},{"t":"M","x":-7.64,"y":0.4},{"t":"M","x":-7.58,"y":0.3},{"t":"M","x":-7.52,"y":0.2},{"t":"M","x":-7.46,"y":0.1},{"t":"M","x":-7.4,"y":0}],
"d59": [{"t":"L","x":-7.84,"y":0.5},{"t":"L","x":-7.825,"y":1.5},{"t":"L","x":-7.81,"y":3.0},{"t":"L","x":-7.795,"y":6.0},{"t":"L","x":-7.78,"y":4.0},{"t":"L","x":-7.765,"y":2.0},{"t":"L","x":-7.75,"y":1.0},{"t":"L","x":-7.735,"y":0.4},{"t":"L","x":-7.72,"y":0},
{"t":"M","x":-7.6,"y":0.2},{"t":"M","x":-7.56,"y":0.5},{"t":"M","x":-7.52,"y":0.9},{"t":"M","x":-7.48,"y":1.2},{"t":"M","x":-7.44,"y":1.0},{"t":"M","x":-7.4,"y":1.3},{"t":"M","x":-7.36,"y":1.5},{"t":"M","x":-7.32,"y":1.2},{"t":"M","x":-7.28,"y":1.4},{"t":"M","x":-7.24,"y":1.6},{"t":"M","x":-7.2,"y":1.2},{"t":"M","x":-7.16,"y":1.0},{"t":"M","x":-7.12,"y":0.8},{"t":"M","x":-7.08,"y":0.6},{"t":"M","x":-7.04,"y":0.4},{"t":"M","x":-7.0,"y":0.3},{"t":"M","x":-6.96,"y":0.2},{"t":"M","x":-6.92,"y":0}],
"d60": [{"t":"L","x":-9.56,"y":1},{"t":"L","x":-9.53,"y":4},{"t":"L","x":-9.5,"y":12},{"t":"L","x":-9.47,"y":4},{"t":"L","x":-9.44,"y":1},{"t":"L","x":-9.41,"y":0},
{"t":"M","x":-8.95,"y":0.2},{"t":"M","x":-8.85,"y":0.5},{"t":"M","x":-8.75,"y":0.7},{"t":"M","x":-8.65,"y":0.8},{"t":"M","x":-8.55,"y":0.6},{"t":"M","x":-8.45,"y":0.5},{"t":"M","x":-8.35,"y":0.6},{"t":"M","x":-8.25,"y":0.4},{"t":"M","x":-8.15,"y":0.3},{"t":"M","x":-8.05,"y":0.2},{"t":"M","x":-7.95,"y":0}],
"d61": [{"t":"L","x":-8.35,"y":0.2},{"t":"L","x":-8.27,"y":0.4},{"t":"L","x":-8.19,"y":0.8},{"t":"L","x":-8.11,"y":1.2},{"t":"L","x":-8.03,"y":1.6},{"t":"L","x":-7.95,"y":2.2},{"t":"L","x":-7.87,"y":2.9},{"t":"L","x":-7.79,"y":1.5},{"t":"L","x":-7.71,"y":1.0},{"t":"L","x":-7.63,"y":0.6},{"t":"L","x":-7.55,"y":0.3},{"t":"L","x":-7.47,"y":0},
{"t":"M","x":-7.6,"y":0.2},{"t":"M","x":-7.48,"y":0.4},{"t":"M","x":-7.36,"y":0.6},{"t":"M","x":-7.24,"y":0.8},{"t":"M","x":-7.12,"y":0.9},{"t":"M","x":-7.0,"y":0.8},{"t":"M","x":-6.88,"y":0.9},{"t":"M","x":-6.76,"y":0.9},{"t":"M","x":-6.64,"y":0.5},{"t":"M","x":-6.52,"y":0.3},{"t":"M","x":-6.4,"y":0.3},{"t":"M","x":-6.28,"y":0.2},{"t":"M","x":-6.16,"y":0.3},{"t":"M","x":-6.04,"y":0.2},{"t":"M","x":-5.92,"y":0.1},{"t":"M","x":-5.8,"y":0}],
"d62": [{"t":"L","x":-12.2,"y":1.6},{"t":"L","x":-12.08,"y":1.3},{"t":"L","x":-11.96,"y":1.0},{"t":"L","x":-11.84,"y":0.7},{"t":"L","x":-11.72,"y":0.5},{"t":"L","x":-11.6,"y":0.3},{"t":"L","x":-11.48,"y":0.2},{"t":"L","x":-11.36,"y":0},
{"t":"M","x":-11.3,"y":0.2},{"t":"M","x":-11.18,"y":0.5},{"t":"M","x":-11.06,"y":0.8},{"t":"M","x":-10.94,"y":2.2},{"t":"M","x":-10.82,"y":0.6},{"t":"M","x":-10.7,"y":0.3},{"t":"M","x":-10.58,"y":0.2},{"t":"M","x":-10.46,"y":0.1},{"t":"M","x":-10.34,"y":0.2},{"t":"M","x":-10.22,"y":0.1},{"t":"M","x":-10.1,"y":0.1},{"t":"M","x":-9.98,"y":0.1},{"t":"M","x":-9.86,"y":0.2},{"t":"M","x":-9.74,"y":0.1},{"t":"M","x":-9.62,"y":0.1},{"t":"M","x":-9.5,"y":0.1},{"t":"M","x":-9.38,"y":0.2},{"t":"M","x":-9.26,"y":0.1},{"t":"M","x":-9.14,"y":0.1},{"t":"M","x":-9.02,"y":0.1},{"t":"M","x":-8.9,"y":0.1},{"t":"M","x":-8.78,"y":0.1},{"t":"M","x":-8.66,"y":0}],
"d63": [{"t":"L","x":-12.6,"y":2.9},{"t":"L","x":-12.52,"y":2.5},{"t":"L","x":-12.44,"y":2.0},{"t":"L","x":-12.36,"y":1.5},{"t":"L","x":-12.28,"y":1.2},{"t":"L","x":-12.2,"y":0.8},{"t":"L","x":-12.12,"y":0.4},{"t":"L","x":-12.04,"y":0},
{"t":"M","x":-11.95,"y":0.3},{"t":"M","x":-11.85,"y":0.8},{"t":"M","x":-11.75,"y":1.2},{"t":"M","x":-11.65,"y":1.5},{"t":"M","x":-11.55,"y":1.2},{"t":"M","x":-11.45,"y":1.0},{"t":"M","x":-11.35,"y":0.7},{"t":"M","x":-11.25,"y":0.5},{"t":"M","x":-11.15,"y":0.3},{"t":"M","x":-11.05,"y":0.6},{"t":"M","x":-10.95,"y":0.8},{"t":"M","x":-10.85,"y":0.4},{"t":"M","x":-10.75,"y":0.2},{"t":"M","x":-10.65,"y":0.1},{"t":"M","x":-10.55,"y":0}],
"d64": [{"t":"L","x":-9.47,"y":0.5},{"t":"L","x":-9.46,"y":1.5},{"t":"L","x":-9.45,"y":3},{"t":"L","x":-9.44,"y":5},{"t":"L","x":-9.43,"y":8},{"t":"L","x":-9.42,"y":12},{"t":"L","x":-9.41,"y":15},{"t":"L","x":-9.4,"y":7},{"t":"L","x":-9.39,"y":2},{"t":"L","x":-9.38,"y":0.5},{"t":"L","x":-9.37,"y":0},
{"t":"M","x":-9.26,"y":0.5},{"t":"M","x":-9.24,"y":1.0},{"t":"M","x":-9.22,"y":1.8},{"t":"M","x":-9.2,"y":2.5},{"t":"M","x":-9.18,"y":3.0},{"t":"M","x":-9.16,"y":2.6},{"t":"M","x":-9.14,"y":2.0},{"t":"M","x":-9.12,"y":1.5},{"t":"M","x":-9.1,"y":1.0},{"t":"M","x":-9.08,"y":0.8},{"t":"M","x":-9.06,"y":0.6},{"t":"M","x":-9.04,"y":0.4},{"t":"M","x":-9.02,"y":0.3},{"t":"M","x":-9.0,"y":0.2},{"t":"M","x":-8.98,"y":0.1},{"t":"M","x":-8.96,"y":0.1},{"t":"M","x":-8.94,"y":0}],
"d65": [{"t":"L","x":-12.63,"y":2.9},{"t":"L","x":-12.55,"y":2.4},{"t":"L","x":-12.47,"y":2.0},{"t":"L","x":-12.39,"y":1.5},{"t":"L","x":-12.31,"y":1.1},{"t":"L","x":-12.23,"y":0.7},{"t":"L","x":-12.15,"y":0.4},{"t":"L","x":-12.07,"y":0.2},{"t":"L","x":-11.99,"y":0},
{"t":"M","x":-11.95,"y":0.3},{"t":"M","x":-11.85,"y":1.0},{"t":"M","x":-11.75,"y":1.4},{"t":"M","x":-11.65,"y":1.2},{"t":"M","x":-11.55,"y":1.0},{"t":"M","x":-11.45,"y":0.8},{"t":"M","x":-11.35,"y":0.6},{"t":"M","x":-11.25,"y":0.4},{"t":"M","x":-11.15,"y":0.3},{"t":"M","x":-11.05,"y":0.6},{"t":"M","x":-10.95,"y":0.7},{"t":"M","x":-10.85,"y":0.3},{"t":"M","x":-10.75,"y":0}],
"d66": [{"t":"L","x":-11.25,"y":2.0},{"t":"L","x":-11.22,"y":1.5},{"t":"L","x":-11.19,"y":3.0},{"t":"L","x":-11.16,"y":6.0},{"t":"L","x":-11.13,"y":4.0},{"t":"L","x":-11.1,"y":1.0},{"t":"L","x":-11.07,"y":0},
{"t":"M","x":-10.87,"y":0.3},{"t":"M","x":-10.82,"y":0.8},{"t":"M","x":-10.77,"y":1.5},{"t":"M","x":-10.72,"y":2.0},{"t":"M","x":-10.67,"y":2.3},{"t":"M","x":-10.62,"y":1.8},{"t":"M","x":-10.57,"y":1.4},{"t":"M","x":-10.52,"y":0.8},{"t":"M","x":-10.47,"y":1.0},{"t":"M","x":-10.42,"y":0.5},{"t":"M","x":-10.37,"y":0.3},{"t":"M","x":-10.32,"y":0.2},{"t":"M","x":-10.27,"y":0}]
},
"title": {"text": "density", "orient": "left", "fontSize": 3.5, "fontWeight": "normal", "offset": 2, "anchor": "middle"},
"hconcat": [{
"title": {"text": "log transcription quotient", "orient": "bottom", "fontSize": 3.5, "fontWeight": "normal", "offset": 1.5, "anchor": "middle"},
"spacing": 3.5,
"vconcat": [
{"spacing": 9, "hconcat": [
{"data":{"name":"d1"},"title":{"text":"FTL","subtitle":"MS= 0.0"},"mark":"area","encoding":{"x":{"field":"x","type":"quantitative","title":null,"scale":{"domain":[-6.9,-3.6]},"axis":{"values":[-6,-5,-4],"format":"d"}},"y":{"field":"y","type":"quantitative","title":null,"stack":null,"scale":{"domain":[0,3.2]},"axis":{"values":[0,2],"format":"d"}},"color":{"field":"t","type":"nominal","legend":{"title":null,"labelExpr":"datum.label == 'L' ? 'NK_lymphoid' : 'NK_myeloid'"}}}},
{"data":{"name":"d2"},"title":{"text":"CST3","subtitle":"MS= 0.0"},"mark":"area","encoding":{"x":{"field":"x","type":"quantitative","title":null,"scale":{"domain":[-9.5,-5.95]},"axis":{"values":[-9,-8,-7,-6],"format":"d"}},"y":{"field":"y","type":"quantitative","title":null,"stack":null,"scale":{"domain":[0,3.3]},"axis":{"values":[0,2],"format":"d"}},"color":{"field":"t","type":"nominal"}}},
{"data":{"name":"d3"},"title":{"text":"GOS2","subtitle":"MS= 0.0"},"mark":"area","encoding":{"x":{"field":"x","type":"quantitative","title":null,"scale":{"domain":[-10.45,-5.95]},"axis":{"values":[-10,-9,-8,-7,-6],"format":"d"}},"y":{"field":"y","type":"quantitative","title":null,"stack":null,"scale":{"domain":[0,5.4]},"axis":{"values":[0,5],"format":"d"}},"color":{"field":"t","type":"nominal"}}},
{"data":{"name":"d4"},"title":{"text":"AIF1_trscrpt1","subtitle":"MS= 0.0"},"mark":"area","encoding":{"x":{"field":"x","type":"quantitative","title":null,"scale":{"domain":[-8.8,-5.5]},"axis":{"values":[-8,-7,-6],"format":"d"}},"y":{"field":"y","type":"quantitative","title":null,"stack":null,"scale":{"domain":[0,6.8]},"axis":{"values":[0,5],"format":"d"}},"color":{"field":"t","type":"nominal"}}},
{"data":{"name":"d5"},"title":{"text":"FCN1","subtitle":"MS= 0.0"},"mark":"area","encoding":{"x":{"field":"x","type":"quantitative","title":null,"scale":{"domain":[-10.2,-6.25]},"axis":{"values":[-9,-8,-7],"format":"d"}},"y":{"field":"y","type":"quantitative","title":null,"stack":null,"scale":{"domain":[0,11.5]},"axis":{"values":[0,10],"format":"d"}},"color":{"field":"t","type":"nominal"}}},
{"data":{"name":"d6"},"title":{"text":"HLA-DRB1","subtitle":"MS= 0.0"},"mark":"area","encoding":{"x":{"field":"x","type":"quantitative","title":null,"scale":{"domain":[-10.0,-5.95]},"axis":{"values":[-9,-8,-7,-6],"format":"d"}},"y":{"field":"y","type":"quantitative","title":null,"stack":null,"scale":{"domain":[0,6.8]},"axis":{"values":[0,5],"format":"d"}},"color":{"field":"t","type":"nominal"}}}
]},
{"spacing": 9, "hconcat": [
{"data":{"name":"d7"},"title":{"text":"FTH1_trscrpt2","subtitle":"MS= 0.0"},"mark":"area","encoding":{"x":{"field":"x","type":"quantitative","title":null,"scale":{"domain":[-7.95,-5.0]},"axis":{"values":[-7.5,-7,-6.5,-6,-5.5],"format":".1f"}},"y":{"field":"y","type":"quantitative","title":null,"stack":null,"scale":{"domain":[0,7.2]},"axis":{"values":[0,5],"format":"d"}},"color":{"field":"t","type":"nominal"}}},
{"data":{"name":"d8"},"title":{"text":"FTH1_trscrpt1","subtitle":"MS= 0.0"},"mark":"area","encoding":{"x":{"field":"x","type":"quantitative","title":null,"scale":{"domain":[-8.05,-5.1]},"axis":{"values":[-7.5,-7,-6.5,-6,-5.5],"format":".1f"}},"y":{"field":"y","type":"quantitative","title":null,"stack":null,"scale":{"domain":[0,7.2]},"axis":{"values":[0,5],"format":"d"}},"color":{"field":"t","type":"nominal"}}},
{"data":{"name":"d9"},"title":{"text":"IFI30_trscrpt2","subtitle":"MS= 0.0"},"mark":"area","encoding":{"x":{"field":"x","type":"quantitative","title":null,"scale":{"domain":[-9.75,-6.6]},"axis":{"values":[-9,-8,-7],"format":"d"}},"y":{"field":"y","type":"quantitative","title":null,"stack":null,"scale":{"domain":[0,9]},"axis":{"values":[0,5],"format":"d"}},"color":{"field":"t","type":"nominal"}}},
{"data":{"name":"d10"},"title":{"text":"CTSS","subtitle":"MS= 0.0"},"mark":"area","encoding":{"x":{"field":"x","type":"quantitative","title":null,"scale":{"domain":[-9.0,-5.9]},"axis":{"values":[-8,-7,-6],"format":"d"}},"y":{"field":"y","type":"quantitative","title":null,"stack":null,"scale":{"domain":[0,6]},"axis":{"values":[0,5],"format":"d"}},"color":{"field":"t","type":"nominal"}}},
{"data":{"name":"d11"},"title":{"text":"FTH1_trscrpt3","subtitle":"MS= 0.0"},"mark":"area","encoding":{"x":{"field":"x","type":"quantitative","title":null,"scale":{"domain":[-8.1,-4.8]},"axis":{"values":[-7,-6,-5],"format":"d"}},"y":{"field":"y","type":"quantitative","title":null,"stack":null,"scale":{"domain":[0,6.5]},"axis":{"values":[0,5],"format":"d"}},"color":{"field":"t","type":"nominal"}}},
{"data":{"name":"d12"},"title":{"text":"CFD_trscrpt1","subtitle":"MS= 0.0"},"mark":"area","encoding":{"x":{"field":"x","type":"quantitative","title":null,"scale":{"domain":[-9.75,-6.6]},"axis":{"values":[-9.5,-9,-8.5,-8,-7.5,-7],"format":".1f"}},"y":{"field":"y","type":"quantitative","title":null,"stack":null,"scale":{"domain":[0,6.5]},"axis":{"values":[0,5],"format":"d"}},"color":{"field":"t","type":"nominal"}}}
]},
{"spacing": 9, "hconcat": [
{"data":{"name":"d13"},"title":{"text":"BEST1_trscrpt4","subtitle":"MS= 0.0"},"mark":"area","encoding":{"x":{"field":"x","type":"quantitative","title":null,"scale":{"domain":[-7.95,-5.0]},"axis":{"values":[-7.5,-7,-6.5,-6,-5.5],"format":".1f"}},"y":{"field":"y","type":"quantitative","title":null,"stack":null,"scale":{"domain":[0,6.2]},"axis":{"values":[0,5],"format":"d"}},"color":{"field":"t","type":"nominal"}}},
{"data":{"name":"d14"},"title":{"text":"HLA-DRA","subtitle":"MS= 0.0"},"mark":"area","encoding":{"x":{"field":"x","type":"quantitative","title":null,"scale":{"domain":[-9.5,-5.4]},"axis":{"values":[-9,-8,-7,-6],"format":"d"}},"y":{"field":"y","type":"quantitative","title":null,"stack":null,"scale":{"domain":[0,3.0]},"axis":{"values":[0,2],"format":"d"}},"color":{"field":"t","type":"nominal"}}},
{"data":{"name":"d15"},"title":{"text":"SAT1","subtitle":"MS= 0.0"},"mark":"area","encoding":{"x":{"field":"x","type":"quantitative","title":null,"scale":{"domain":[-9.15,-5.05]},"axis":{"values":[-8,-7,-6,-5],"format":"d"}},"y":{"field":"y","type":"quantitative","title":null,"stack":null,"scale":{"domain":[0,3.4]},"axis":{"values":[0,2.5],"format":".1f"}},"color":{"field":"t","type":"nominal"}}},
{"data":{"name":"d16"},"title":{"text":"LILRA5","subtitle":"MS= 0.0"},"mark":"area","encoding":{"x":{"field":"x","type":"quantitative","title":null,"scale":{"domain":[-10.7,-8.3]},"axis":{"values":[-10.5,-10,-9.5,-9,-8.5],"format":".1f"}},"y":{"field":"y","type":"quantitative","title":null,"stack":null,"scale":{"domain":[0,13.5]},"axis":{"values":[0,10],"format":"d"}},"color":{"field":"t","type":"nominal"}}},
{"data":{"name":"d17"},"title":{"text":"S100A4_trscrpt1","subtitle":"MS= 1e-05"},"mark":"area","encoding":{"x":{"field":"x","type":"quantitative","title":null,"scale":{"domain":[-9.0,-6.65]},"axis":{"values":[-8.5,-8,-7.5,-7],"format":".1f"}},"y":{"field":"y","type":"quantitative","title":null,"stack":null,"scale":{"domain":[0,1.05]},"axis":{"values":[0,1],"format":"d"}},"color":{"field":"t","type":"nominal"}}},
{"data":{"name":"d18"},"title":{"text":"S100A4_trscrpt3","subtitle":"MS= 1e-05"},"mark":"area","encoding":{"x":{"field":"x","type":"quantitative","title":null,"scale":{"domain":[-9.0,-6.52]},"axis":{"values":[-8.5,-8,-7.5,-7],"format":".1f"}},"y":{"field":"y","type":"quantitative","title":null,"stack":null,"scale":{"domain":[0,1.05]},"axis":{"values":[0,1],"format":"d"}},"color":{"field":"t","type":"nominal"}}}
]},
{"spacing": 9, "hconcat": [
{"data":{"name":"d19"},"title":{"text":"CLEC7A_trscrpt3","subtitle":"MS= 1e-05"},"mark":"area","encoding":{"x":{"field":"x","type":"quantitative","title":null,"scale":{"domain":[-9.6,-7.35]},"axis":{"values":[-9.5,-9,-8.5,-8,-7.5],"format":".1f"}},"y":{"field":"y","type":"quantitative","title":null,"stack":null,"scale":{"domain":[0,11]},"axis":{"values":[0,10],"format":"d"}},"color":{"field":"t","type":"nominal"}}},
{"data":{"name":"d20"},"title":{"text":"MNDA_trscrpt1","subtitle":"MS= 1e-05"},"mark":"area","encoding":{"x":{"field":"x","type":"quantitative","title":null,"scale":{"domain":[-9.8,-6.7]},"axis":{"values":[-9,-8,-7],"format":"d"}},"y":{"field":"y","type":"quantitative","title":null,"stack":null,"scale":{"domain":[0,9.8]},"axis":{"values":[0,5],"format":"d"}},"color":{"field":"t","type":"nominal"}}},
{"data":{"name":"d21"},"title":{"text":"S100A11","subtitle":"MS= 1e-05"},"mark":"area","encoding":{"x":{"field":"x","type":"quantitative","title":null,"scale":{"domain":[-9.45,-6.35]},"axis":{"values":[-9,-8.5,-8,-7.5,-7,-6.5],"format":".1f"}},"y":{"field":"y","type":"quantitative","title":null,"stack":null,"scale":{"domain":[0,3.5]},"axis":{"values":[0,2],"format":"d"}},"color":{"field":"t","type":"nominal"}}},
{"data":{"name":"d22"},"title":{"text":"S100A6","subtitle":"MS= 1e-05"},"mark":"area","encoding":{"x":{"field":"x","type":"quantitative","title":null,"scale":{"domain":[-8.6,-4.85]},"axis":{"values":[-8,-7,-6,-5],"format":"d"}},"y":{"field":"y","type":"quantitative","title":null,"stack":null,"scale":{"domain":[0,3.1]},"axis":{"values":[0,2],"format":"d"}},"color":{"field":"t","type":"nominal"}}},
{"data":{"name":"d23"},"title":{"text":"LGALS2","subtitle":"MS= 2e-05"},"mark":"area","encoding":{"x":{"field":"x","type":"quantitative","title":null,"scale":{"domain":[-10.2,-6.75]},"axis":{"values":[-10,-9,-8,-7],"format":"d"}},"y":{"field":"y","type":"quantitative","title":null,"stack":null,"scale":{"domain":[0,12.6]},"axis":{"values":[0,10],"format":"d"}},"color":{"field":"t","type":"nominal"}}},
{"data":{"name":"d24"},"title":{"text":"THBS1","subtitle":"MS= 3e-05"},"mark":"area","encoding":{"x":{"field":"x","type":"quantitative","title":null,"scale":{"domain":[-10.8,-8.2]},"axis":{"values":[-10.5,-10,-9.5,-9,-8.5],"format":".1f"}},"y":{"field":"y","type":"quantitative","title":null,"stack":null,"scale":{"domain":[0,9.8]},"axis":{"values":[0,5],"format":"d"}},"color":{"field":"t","type":"nominal"}}}
]},
{"spacing": 9, "hconcat": [
{"data":{"name":"d25"},"title":{"text":"LYZ","subtitle":"MS= 4e-05"},"mark":"area","encoding":{"x":{"field":"x","type":"quantitative","title":null,"scale":{"domain":[-9.4,-3.5]},"axis":{"values":[-9,-8,-7,-6,-5,-4],"format":"d"}},"y":{"field":"y","type":"quantitative","title":null,"stack":null,"scale":{"domain":[0,3.9]},"axis":{"values":[0,2],"format":"d"}},"color":{"field":"t","type":"nominal"}}},
{"data":{"name":"d26"},"title":{"text":"TYMP","subtitle":"MS= 4e-05"},"mark":"area","encoding":{"x":{"field":"x","type":"quantitative","title":null,"scale":{"domain":[-9.45,-7.75]},"axis":{"values":[-9,-8.5,-8],"format":".1f"}},"y":{"field":"y","type":"quantitative","title":null,"stack":null,"scale":{"domain":[0,13.5]},"axis":{"values":[0,10],"format":"d"}},"color":{"field":"t","type":"nominal"}}},
{"data":{"name":"d27"},"title":{"text":"CFP","subtitle":"MS= 6e-05"},"mark":"area","encoding":{"x":{"field":"x","type":"quantitative","title":null,"scale":{"domain":[-9.75,-7.9]},"axis":{"values":[-9.5,-9,-8.5,-8],"format":".1f"}},"y":{"field":"y","type":"quantitative","title":null,"stack":null,"scale":{"domain":[0,13]},"axis":{"values":[0,10],"format":"d"}},"color":{"field":"t","type":"nominal"}}},
{"data":{"name":"d28"},"title":{"text":"CEBPB","subtitle":"MS= 7e-05"},"mark":"area","encoding":{"x":{"field":"x","type":"quantitative","title":null,"scale":{"domain":[-9.4,-6.45]},"axis":{"values":[-9,-8.5,-8,-7.5,-7],"format":".1f"}},"y":{"field":"y","type":"quantitative","title":null,"stack":null,"scale":{"domain":[0,5.0]},"axis":{"values":[0,2.5],"format":".1f"}},"color":{"field":"t","type":"nominal"}}},
{"data":{"name":"d29"},"title":{"text":"TIMP1_trscrpt1","subtitle":"MS= 8e-05"},"mark":"area","encoding":{"x":{"field":"x","type":"quantitative","title":null,"scale":{"domain":[-9.5,-6.25]},"axis":{"values":[-9,-8.5,-8,-7.5,-7,-6.5],"format":".1f"}},"y":{"field":"y","type":"quantitative","title":null,"stack":null,"scale":{"domain":[0,12.6]},"axis":{"values":[0,10],"format":"d"}},"color":{"field":"t","type":"nominal"}}},
{"data":{"name":"d30"},"title":{"text":"S100A4_trscrpt2","subtitle":"MS= 0.00011"},"mark":"area","encoding":{"x":{"field":"x","type":"quantitative","title":null,"scale":{"domain":[-8.9,-5.7]},"axis":{"values":[-8,-7,-6],"format":"d"}},"y":{"field":"y","type":"quantitative","title":null,"stack":null,"scale":{"domain":[0,3.9]},"axis":{"values":[0,2],"format":"d"}},"color":{"field":"t","type":"nominal"}}}
]},
{"spacing": 9, "hconcat": [
{"data":{"name":"d31"},"title":{"text":"HLA-DPB1_trscrpt1","subtitle":"MS= 0.00014"},"mark":"area","encoding":{"x":{"field":"x","type":"quantitative","title":null,"scale":{"domain":[-10.2,-6.9]},"axis":{"values":[-10,-9,-8,-7],"format":"d"}},"y":{"field":"y","type":"quantitative","title":null,"stack":null,"scale":{"domain":[0,15.5]},"axis":{"values":[0,10],"format":"d"}},"color":{"field":"t","type":"nominal"}}},
{"data":{"name":"d32"},"title":{"text":"IL8","subtitle":"MS= 0.00017"},"mark":"area","encoding":{"x":{"field":"x","type":"quantitative","title":null,"scale":{"domain":[-10.45,-6.85]},"axis":{"values":[-10,-9,-8,-7],"format":"d"}},"y":{"field":"y","type":"quantitative","title":null,"stack":null,"scale":{"domain":[0,10]},"axis":{"values":[0,5],"format":"d"}},"color":{"field":"t","type":"nominal"}}},
{"data":{"name":"d33"},"title":{"text":"CLEC10A_trscrpt1","subtitle":"MS= 0.0002"},"mark":"area","encoding":{"x":{"field":"x","type":"quantitative","title":null,"scale":{"domain":[-12.95,-9.55]},"axis":{"values":[-12.5,-12,-11.5,-11,-10.5,-10],"format":".1f"}},"y":{"field":"y","type":"quantitative","title":null,"stack":null,"scale":{"domain":[0,135]},"axis":{"values":[0,100],"format":"d"}},"color":{"field":"t","type":"nominal"}}},
{"data":{"name":"d34"},"title":{"text":"CLEC10A_trscrpt2","subtitle":"MS= 0.00021"},"mark":"area","encoding":{"x":{"field":"x","type":"quantitative","title":null,"scale":{"domain":[-12.88,-9.55]},"axis":{"values":[-12.5,-12,-11.5,-11,-10.5,-10],"format":".1f"}},"y":{"field":"y","type":"quantitative","title":null,"stack":null,"scale":{"domain":[0,135]},"axis":{"values":[0,100],"format":"d"}},"color":{"field":"t","type":"nominal"}}},
{"data":{"name":"d35"},"title":{"text":"RGS2","subtitle":"MS= 0.00036"},"mark":"area","encoding":{"x":{"field":"x","type":"quantitative","title":null,"scale":{"domain":[-9.9,-6.9]},"axis":{"values":[-9.5,-9,-8.5,-8,-7.5,-7],"format":".1f"}},"y":{"field":"y","type":"quantitative","title":null,"stack":null,"scale":{"domain":[0,11]},"axis":{"values":[0,5],"format":"d"}},"color":{"field":"t","type":"nominal"}}},
{"data":{"name":"d36"},"title":{"text":"HLA-DRB5","subtitle":"MS= 0.00049"},"mark":"area","encoding":{"x":{"field":"x","type":"quantitative","title":null,"scale":{"domain":[-9.95,-6.5]},"axis":{"values":[-9.5,-9,-8.5,-8,-7.5,-7],"format":".1f"}},"y":{"field":"y","type":"quantitative","title":null,"stack":null,"scale":{"domain":[0,16]},"axis":{"values":[0,10],"format":"d"}},"color":{"field":"t","type":"nominal"}}}
]},
{"spacing": 9, "hconcat": [
{"data":{"name":"d37"},"title":{"text":"S100A9","subtitle":"MS= 0.00051"},"mark":"area","encoding":{"x":{"field":"x","type":"quantitative","title":null,"scale":{"domain":[-9.35,-3.8]},"axis":{"values":[-9,-8,-7,-6,-5,-4],"format":"d"}},"y":{"field":"y","type":"quantitative","title":null,"stack":null,"scale":{"domain":[0,4.1]},"axis":{"values":[0,2],"format":"d"}},"color":{"field":"t","type":"nominal"}}},
{"data":{"name":"d38"},"title":{"text":"HLA-DPA1_trscrpt3","subtitle":"MS= 0.00051"},"mark":"area","encoding":{"x":{"field":"x","type":"quantitative","title":null,"scale":{"domain":[-10.4,-7.4]},"axis":{"values":[-10,-9.5,-9,-8.5,-8,-7.5],"format":".1f"}},"y":{"field":"y","type":"quantitative","title":null,"stack":null,"scale":{"domain":[0,11]},"axis":{"values":[0,10],"format":"d"}},"color":{"field":"t","type":"nominal"}}},
{"data":{"name":"d39"},"title":{"text":"PSAP","subtitle":"MS= 0.00057"},"mark":"area","encoding":{"x":{"field":"x","type":"quantitative","title":null,"scale":{"domain":[-8.95,-6.85]},"axis":{"values":[-8.5,-8,-7.5,-7],"format":".1f"}},"y":{"field":"y","type":"quantitative","title":null,"stack":null,"scale":{"domain":[0,4.6]},"axis":{"values":[0,2.5],"format":".1f"}},"color":{"field":"t","type":"nominal"}}},
{"data":{"name":"d40"},"title":{"text":"HLA-DPA1_trscrpt2","subtitle":"MS= 0.00058"},"mark":"area","encoding":{"x":{"field":"x","type":"quantitative","title":null,"scale":{"domain":[-10.4,-7.35]},"axis":{"values":[-10,-9.5,-9,-8.5,-8,-7.5],"format":".1f"}},"y":{"field":"y","type":"quantitative","title":null,"stack":null,"scale":{"domain":[0,11]},"axis":{"values":[0,10],"format":"d"}},"color":{"field":"t","type":"nominal"}}},
{"data":{"name":"d41"},"title":{"text":"TSPO_trscrpt1","subtitle":"MS= 0.00079"},"mark":"area","encoding":{"x":{"field":"x","type":"quantitative","title":null,"scale":{"domain":[-8.8,-7.1]},"axis":{"values":[-8.5,-8,-7.5],"format":".1f"}},"y":{"field":"y","type":"quantitative","title":null,"stack":null,"scale":{"domain":[0,15.5]},"axis":{"values":[0,10],"format":"d"}},"color":{"field":"t","type":"nominal"}}},
{"data":{"name":"d42"},"title":{"text":"NEAT1","subtitle":"MS= 0.0008"},"mark":"area","encoding":{"x":{"field":"x","type":"quantitative","title":null,"scale":{"domain":[-8.75,-5.3]},"axis":{"values":[-8.5,-8,-7.5,-7,-6.5,-6,-5.5],"format":".1f"}},"y":{"field":"y","type":"quantitative","title":null,"stack":null,"scale":{"domain":[0,4.2]},"axis":{"values":[0,2],"format":"d"}},"color":{"field":"t","type":"nominal"}}}
]},
{"spacing": 9, "hconcat": [
{"data":{"name":"d43"},"title":{"text":"S100A8","subtitle":"MS= 0.00103"},"mark":"area","encoding":{"x":{"field":"x","type":"quantitative","title":null,"scale":{"domain":[-9.25,-3.5]},"axis":{"values":[-8,-6,-4],"format":"d"}},"y":{"field":"y","type":"quantitative","title":null,"stack":null,"scale":{"domain":[0,2.8]},"axis":{"values":[0,2],"format":"d"}},"color":{"field":"t","type":"nominal"}}},
{"data":{"name":"d44"},"title":{"text":"S100A10","subtitle":"MS= 0.00104"},"mark":"area","encoding":{"x":{"field":"x","type":"quantitative","title":null,"scale":{"domain":[-8.55,-6.35]},"axis":{"values":[-8,-7.5,-7,-6.5],"format":".1f"}},"y":{"field":"y","type":"quantitative","title":null,"stack":null,"scale":{"domain":[0,6.4]},"axis":{"values":[0,5],"format":"d"}},"color":{"field":"t","type":"nominal"}}},
{"data":{"name":"d45"},"title":{"text":"HLA-DOA1_trscrpt1","subtitle":"MS= 0.00108"},"mark":"area","encoding":{"x":{"field":"x","type":"quantitative","title":null,"scale":{"domain":[-10.95,-8.25]},"axis":{"values":[-10.5,-10,-9.5,-9,-8.5],"format":".1f"}},"y":{"field":"y","type":"quantitative","title":null,"stack":null,"scale":{"domain":[0,23]},"axis":{"values":[0,20],"format":"d"}},"color":{"field":"t","type":"nominal"}}},
{"data":{"name":"d46"},"title":{"text":"HLA-DMA_XXbac-BPG181M17.5","subtitle":"MS= 0.00129"},"mark":"area","encoding":{"x":{"field":"x","type":"quantitative","title":null,"scale":{"domain":[-9.8,-7.95]},"axis":{"values":[-9.5,-9,-8.5,-8],"format":".1f"}},"y":{"field":"y","type":"quantitative","title":null,"stack":null,"scale":{"domain":[0,33]},"axis":{"values":[0,20],"format":"d"}},"color":{"field":"t","type":"nominal"}}},
{"data":{"name":"d47"},"title":{"text":"PF4","subtitle":"MS= 0.0014"},"mark":"area","encoding":{"x":{"field":"x","type":"quantitative","title":null,"scale":{"domain":[-13.55,-8.95]},"axis":{"values":[-13,-12,-11,-10,-9],"format":"d"}},"y":{"field":"y","type":"quantitative","title":null,"stack":null,"scale":{"domain":[0,4.8]},"axis":{"values":[0,2.5],"format":".1f"}},"color":{"field":"t","type":"nominal"}}},
{"data":{"name":"d48"},"title":{"text":"AP1S2","subtitle":"MS= 0.00143"},"mark":"area","encoding":{"x":{"field":"x","type":"quantitative","title":null,"scale":{"domain":[-9.35,-5.95]},"axis":{"values":[-9,-8,-7,-6],"format":"d"}},"y":{"field":"y","type":"quantitative","title":null,"stack":null,"scale":{"domain":[0,7.4]},"axis":{"values":[0,5],"format":"d"}},"color":{"field":"t","type":"nominal"}}}
]},
{"spacing": 9, "hconcat": [
{"data":{"name":"d49"},"title":{"text":"CSTA","subtitle":"MS= 0.00155"},"mark":"area","encoding":{"x":{"field":"x","type":"quantitative","title":null,"scale":{"domain":[-10.0,-7.7]},"axis":{"values":[-9.5,-9,-8.5,-8],"format":".1f"}},"y":{"field":"y","type":"quantitative","title":null,"stack":null,"scale":{"domain":[0,17.5]},"axis":{"values":[0,10],"format":"d"}},"color":{"field":"t","type":"nominal"}}},
{"data":{"name":"d50"},"title":{"text":"HLA-DQB1_trscrpt1","subtitle":"MS= 0.0016"},"mark":"area","encoding":{"x":{"field":"x","type":"quantitative","title":null,"scale":{"domain":[-9.65,-8.23]},"axis":{"values":[-9.5,-9.25,-9,-8.75,-8.5,-8.25],"format":".2f"}},"y":{"field":"y","type":"quantitative","title":null,"stack":null,"scale":{"domain":[0,17]},"axis":{"values":[0,10],"format":"d"}},"color":{"field":"t","type":"nominal"}}},
{"data":{"name":"d51"},"title":{"text":"LGALS1","subtitle":"MS= 0.00167"},"mark":"area","encoding":{"x":{"field":"x","type":"quantitative","title":null,"scale":{"domain":[-9.55,-5.9]},"axis":{"values":[-9,-8,-7,-6],"format":"d"}},"y":{"field":"y","type":"quantitative","title":null,"stack":null,"scale":{"domain":[0,3.2]},"axis":{"values":[0,2],"format":"d"}},"color":{"field":"t","type":"nominal"}}},
{"data":{"name":"d52"},"title":{"text":"S100A12","subtitle":"MS= 0.00172"},"mark":"area","encoding":{"x":{"field":"x","type":"quantitative","title":null,"scale":{"domain":[-10.4,-5.9]},"axis":{"values":[-10,-9,-8,-7,-6],"format":"d"}},"y":{"field":"y","type":"quantitative","title":null,"stack":null,"scale":{"domain":[0,3.4]},"axis":{"values":[0,2],"format":"d"}},"color":{"field":"t","type":"nominal"}}},
{"data":{"name":"d53"},"title":{"text":"CEBPD","subtitle":"MS= 0.00178"},"mark":"area","encoding":{"x":{"field":"x","type":"quantitative","title":null,"scale":{"domain":[-9.8,-7.45]},"axis":{"values":[-9.5,-9,-8.5,-8],"format":".1f"}},"y":{"field":"y","type":"quantitative","title":null,"stack":null,"scale":{"domain":[0,4.4]},"axis":{"values":[0,2.5],"format":".1f"}},"color":{"field":"t","type":"nominal"}}},
{"data":{"name":"d54"},"title":{"text":"CD14_trscrpt2","subtitle":"MS= 0.00196"},"mark":"area","encoding":{"x":{"field":"x","type":"quantitative","title":null,"scale":{"domain":[-10.25,-7.2]},"axis":{"values":[-10,-9.5,-9,-8.5,-8,-7.5],"format":".1f"}},"y":{"field":"y","type":"quantitative","title":null,"stack":null,"scale":{"domain":[0,26]},"axis":{"values":[0,20],"format":"d"}},"color":{"field":"t","type":"nominal"}}}
]},
{"spacing": 9, "hconcat": [
{"data":{"name":"d55"},"title":{"text":"PPBP","subtitle":"MS= 0.00409"},"mark":"area","encoding":{"x":{"field":"x","type":"quantitative","title":null,"scale":{"domain":[-11.7,-5.4]},"axis":{"values":[-10,-8,-6],"format":"d"}},"y":{"field":"y","type":"quantitative","title":null,"stack":null,"scale":{"domain":[0,1.5]},"axis":{"values":[0,1],"format":"d"}},"color":{"field":"t","type":"nominal"}}},
{"data":{"name":"d56"},"title":{"text":"PF4V1","subtitle":"MS= 0.00413"},"mark":"area","encoding":{"x":{"field":"x","type":"quantitative","title":null,"scale":{"domain":[-13.8,-10.2]},"axis":{"values":[-13,-12,-11],"format":"d"}},"y":{"field":"y","type":"quantitative","title":null,"stack":null,"scale":{"domain":[0,2.4]},"axis":{"values":[0,2],"format":"d"}},"color":{"field":"t","type":"nominal"}}},
{"data":{"name":"d57"},"title":{"text":"GPX1_trscrpt1","subtitle":"MS= 0.00421"},"mark":"area","encoding":{"x":{"field":"x","type":"quantitative","title":null,"scale":{"domain":[-9.45,-7.35]},"axis":{"values":[-9,-8.5,-8,-7.5],"format":".1f"}},"y":{"field":"y","type":"quantitative","title":null,"stack":null,"scale":{"domain":[0,7.5]},"axis":{"values":[0,5],"format":"d"}},"color":{"field":"t","type":"nominal"}}},
{"data":{"name":"d58"},"title":{"text":"GPX1_trscrpt2","subtitle":"MS= 0.00438"},"mark":"area","encoding":{"x":{"field":"x","type":"quantitative","title":null,"scale":{"domain":[-9.35,-7.3]},"axis":{"values":[-9,-8.5,-8,-7.5],"format":".1f"}},"y":{"field":"y","type":"quantitative","title":null,"stack":null,"scale":{"domain":[0,7.5]},"axis":{"values":[0,5],"format":"d"}},"color":{"field":"t","type":"nominal"}}},
{"data":{"name":"d59"},"title":{"text":"GABARAP_trscrpt1","subtitle":"MS= 0.00461"},"mark":"area","encoding":{"x":{"field":"x","type":"quantitative","title":null,"scale":{"domain":[-8.2,-6.85]},"axis":{"values":[-8,-7.75,-7.5,-7.25,-7],"format":".2f"}},"y":{"field":"y","type":"quantitative","title":null,"stack":null,"scale":{"domain":[0,7]},"axis":{"values":[0,5],"format":"d"}},"color":{"field":"t","type":"nominal"}}},
{"data":{"name":"d60"},"title":{"text":"RNASE6","subtitle":"MS= 0.00512"},"mark":"area","encoding":{"x":{"field":"x","type":"quantitative","title":null,"scale":{"domain":[-10.15,-7.35]},"axis":{"values":[-9.5,-9,-8.5,-8,-7.5],"format":".1f"}},"y":{"field":"y","type":"quantitative","title":null,"stack":null,"scale":{"domain":[0,14]},"axis":{"values":[0,10],"format":"d"}},"color":{"field":"t","type":"nominal"}}}
]},
{"spacing": 9, "hconcat": [
{"data":{"name":"d61"},"title":{"text":"CD74","subtitle":"MS= 0.00566"},"mark":"area","encoding":{"x":{"field":"x","type":"quantitative","title":null,"scale":{"domain":[-8.6,-5.35]},"axis":{"values":[-8,-7,-6],"format":"d"}},"y":{"field":"y","type":"quantitative","title":null,"stack":null,"scale":{"domain":[0,3.2]},"axis":{"values":[0,2],"format":"d"}},"color":{"field":"t","type":"nominal"}}},
{"data":{"name":"d62"},"title":{"text":"GP1BB","subtitle":"MS= 0.00612"},"mark":"area","encoding":{"x":{"field":"x","type":"quantitative","title":null,"scale":{"domain":[-12.3,-8.45]},"axis":{"values":[-12,-11,-10,-9],"format":"d"}},"y":{"field":"y","type":"quantitative","title":null,"stack":null,"scale":{"domain":[0,2.3]},"axis":{"values":[0,2],"format":"d"}},"color":{"field":"t","type":"nominal"}}},
{"data":{"name":"d63"},"title":{"text":"NRGN_trscrpt2","subtitle":"MS= 0.00621"},"mark":"area","encoding":{"x":{"field":"x","type":"quantitative","title":null,"scale":{"domain":[-12.85,-9.9]},"axis":{"values":[-12,-11,-10],"format":"d"}},"y":{"field":"y","type":"quantitative","title":null,"stack":null,"scale":{"domain":[0,3.1]},"axis":{"values":[0,2],"format":"d"}},"color":{"field":"t","type":"nominal"}}},
{"data":{"name":"d64"},"title":{"text":"BLVRB_trscrpt2","subtitle":"MS= 0.00623"},"mark":"area","encoding":{"x":{"field":"x","type":"quantitative","title":null,"scale":{"domain":[-9.68,-8.78]},"axis":{"values":[-9.6,-9.4,-9.2,-9,-8.8],"format":".1f"}},"y":{"field":"y","type":"quantitative","title":null,"stack":null,"scale":{"domain":[0,16]},"axis":{"values":[0,10],"format":"d"}},"color":{"field":"t","type":"nominal"}}},
{"data":{"name":"d65"},"title":{"text":"NRGN_trscrpt1","subtitle":"MS= 0.00637"},"mark":"area","encoding":{"x":{"field":"x","type":"quantitative","title":null,"scale":{"domain":[-13.0,-9.7]},"axis":{"values":[-12,-11,-10],"format":"d"}},"y":{"field":"y","type":"quantitative","title":null,"stack":null,"scale":{"domain":[0,3.1]},"axis":{"values":[0,2],"format":"d"}},"color":{"field":"t","type":"nominal"}}},
{"data":{"name":"d66"},"title":{"text":"RGS18","subtitle":"MS= 0.00813"},"mark":"area","encoding":{"x":{"field":"x","type":"quantitative","title":null,"scale":{"domain":[-11.45,-9.7]},"axis":{"values":[-11,-10.5,-10],"format":".1f"}},"y":{"field":"y","type":"quantitative","title":null,"stack":null,"scale":{"domain":[0,7]},"axis":{"values":[0,5],"format":"d"}},"color":{"field":"t","type":"nominal"}}}
]}
]}],
"config": {
"font": "DejaVu Sans",
"view": {"continuousWidth": 66, "continuousHeight": 16, "stroke": "#aaa", "strokeWidth": 0.8},
"area": {"interpolate": "step-after", "fillOpacity": 0.5},
"range": {"category": ["#ff0000", "#0000ff"]},
"axis": {"grid": false, "domain": false, "labelFontSize": 3.5, "tickSize": 1.5, "tickWidth": 0.5, "tickColor": "#333", "labelColor": "#222", "labelPadding": 0.5, "labelOverlap": false, "labelFlush": false},
"title": {"fontSize": 5.5, "fontWeight": "normal", "subtitleFontSize": 3.5, "subtitlePadding": 0.01, "offset": 0.3, "color": "#111", "subtitleColor": "#111"},
"legend": {"orient": "none", "legendX": 505, "legendY": 176, "labelFontSize": 3.5, "symbolType": "M-1,-0.45H1V0.45H-1Z", "symbolSize": 12, "symbolOpacity": 0.5, "symbolStrokeWidth": 0, "rowPadding": 1.5, "labelOffset": 2, "padding": 1}
}
}
